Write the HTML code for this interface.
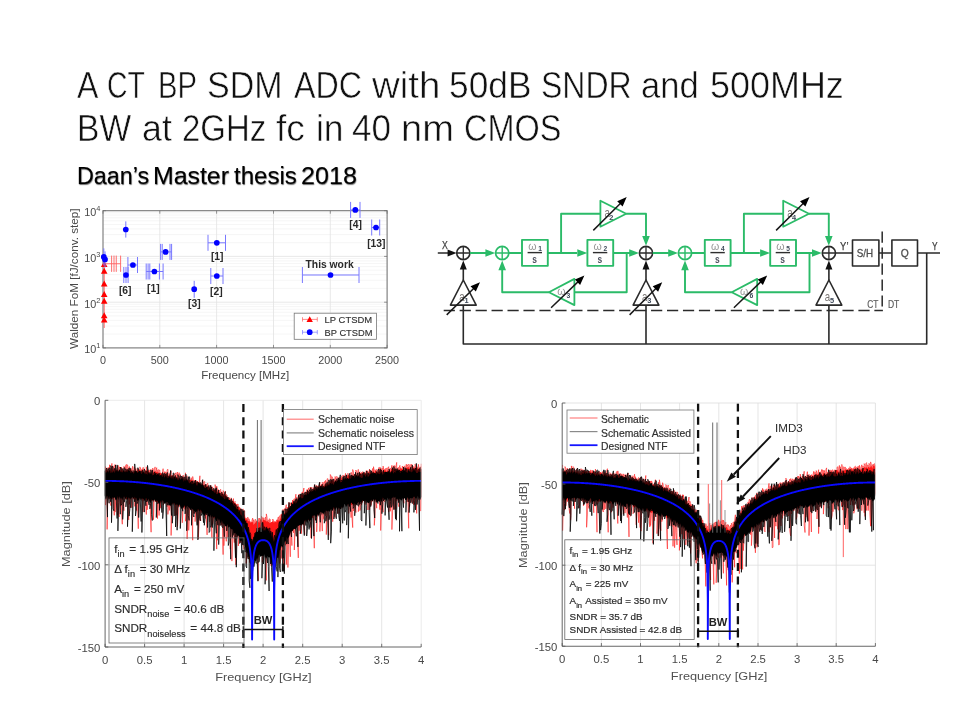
<!DOCTYPE html>
<html lang="en">
<head>
<meta charset="utf-8">
<title>A CT BP SDM ADC with 50dB SNDR and 500MHz BW at 2GHz fc in 40 nm CMOS</title>
<style>
html,body{margin:0;padding:0;background:#fff;}
body{width:960px;height:720px;position:relative;overflow:hidden;font-family:'Liberation Sans', sans-serif;}
.title{position:absolute;left:0;top:64.1px;width:960px;height:86px;margin:0;font-weight:normal;font-size:36.5px;line-height:43px;color:#111;white-space:nowrap;-webkit-text-stroke:0.55px #fff;}
.title span,.sub span{position:absolute;top:0;transform-origin:0 0;white-space:nowrap;}
.title span.l2{top:43px;}
.sub{position:absolute;left:0;top:161.6px;width:960px;height:28px;margin:0;font-size:24.2px;line-height:28px;color:#000;white-space:nowrap;font-weight:normal;text-shadow:0.5px 0.9px 1.1px rgba(0,0,0,0.6);-webkit-text-stroke:0.08px #000;}
svg{position:absolute;left:0;top:0;}
#gfx{filter:blur(0.55px);}
</style>
</head>
<body>
<h1 class="title"><span style="left:76.8px;transform:scaleX(0.8792)">A</span> <span style="left:107.14px;transform:scaleX(0.7783)">CT</span> <span style="left:158.3px;transform:scaleX(0.8)">BP</span> <span style="left:207.04px;transform:scaleX(0.9325)">SDM</span> <span style="left:293.5px;transform:scaleX(0.8842)">ADC</span> <span style="left:372.1px;transform:scaleX(1.054)">with</span> <span style="left:449.27px;transform:scaleX(0.9671)">50dB</span> <span style="left:540.55px;transform:scaleX(0.8768)">SNDR</span> <span style="left:641.25px;transform:scaleX(0.9466)">and</span> <span style="left:710.33px;transform:scaleX(0.9848)">500MHz</span> <span class="l2" style="left:76.74px;transform:scaleX(0.92)">BW</span> <span class="l2" style="left:141.62px;transform:scaleX(0.9793)">at</span> <span class="l2" style="left:182.0px;transform:scaleX(0.9022)">2GHz</span> <span class="l2" style="left:276.4px;transform:scaleX(1.0143)">fc</span> <span class="l2" style="left:315.56px;transform:scaleX(0.9708)">in</span> <span class="l2" style="left:351.54px;transform:scaleX(0.9605)">40</span> <span class="l2" style="left:400.61px;transform:scaleX(1.0426)">nm</span> <span class="l2" style="left:464.42px;transform:scaleX(0.8896)">CMOS</span></h1>
<p class="sub"><span style="left:76.84px;transform:scaleX(0.963)">Daan’s</span> <span style="left:153.37px;transform:scaleX(1.0274)">Master</span> <span style="left:234.0px;transform:scaleX(0.9937)">thesis</span> <span style="left:300.86px;transform:scaleX(1.0385)">2018</span></p>
<svg id="gfx" width="960" height="720" viewBox="0 0 960 720">
<g id="fom">
<rect x="103.0" y="210.7" width="284.1" height="137.2" fill="#fff"/>
<path d="M103.0 334.1H387.1M103.0 326.1H387.1M103.0 320.4H387.1M103.0 315.9H387.1M103.0 312.3H387.1M103.0 309.3H387.1M103.0 306.6H387.1M103.0 304.3H387.1M103.0 288.4H387.1M103.0 280.3H387.1M103.0 274.6H387.1M103.0 270.2H387.1M103.0 266.6H387.1M103.0 263.5H387.1M103.0 260.9H387.1M103.0 258.5H387.1M103.0 242.7H387.1M103.0 234.6H387.1M103.0 228.9H387.1M103.0 224.5H387.1M103.0 220.8H387.1M103.0 217.8H387.1M103.0 215.1H387.1M103.0 212.8H387.1" stroke="#ececec" stroke-width="0.5" fill="none"/>
<path d="M159.8 210.7V347.9M216.6 210.7V347.9M273.5 210.7V347.9M330.3 210.7V347.9M103.0 302.2H387.1M103.0 256.4H387.1" stroke="#e2e2e2" stroke-width="0.8" fill="none"/>
<rect x="103.0" y="210.7" width="284.1" height="137.2" fill="none" stroke="#777" stroke-width="1.1"/>
<path d="M103 347.9v-3M103 210.7v3M159.8 347.9v-3M159.8 210.7v3M216.6 347.9v-3M216.6 210.7v3M273.5 347.9v-3M273.5 210.7v3M330.3 347.9v-3M330.3 210.7v3M387.1 347.9v-3M387.1 210.7v3M103.0 347.9h3M387.1 347.9h-3M103.0 302.2h3M387.1 302.2h-3M103.0 256.4h3M387.1 256.4h-3M103.0 210.7h3M387.1 210.7h-3" stroke="#6a6a6a" stroke-width="0.7" fill="none"/>
<g font-family="'Liberation Sans', sans-serif" font-size="10.8" fill="#484848" text-anchor="middle">
<text x="103" y="364.1">0</text>
<text x="159.8" y="364.1">500</text>
<text x="216.6" y="364.1">1000</text>
<text x="273.5" y="364.1">1500</text>
<text x="330.3" y="364.1">2000</text>
<text x="387.1" y="364.1">2500</text>
</g>
<g font-family="'Liberation Sans', sans-serif" font-size="10.8" fill="#484848" text-anchor="end">
<text x="100.3" y="353.2">10<tspan font-size="7.4" dy="-5">1</tspan></text>
<text x="100.3" y="307.5">10<tspan font-size="7.4" dy="-5">2</tspan></text>
<text x="100.3" y="261.7">10<tspan font-size="7.4" dy="-5">3</tspan></text>
<text x="100.3" y="216">10<tspan font-size="7.4" dy="-5">4</tspan></text>
</g>
<text x="245.2" y="378.6" font-family="'Liberation Sans', sans-serif" font-size="11.2" fill="#484848" text-anchor="middle" textLength="88" lengthAdjust="spacingAndGlyphs">Frequency [MHz]</text>
<text transform="translate(77.6 278.7) rotate(-90)" font-family="'Liberation Sans', sans-serif" font-size="11.2" fill="#484848" text-anchor="middle" textLength="140.5" lengthAdjust="spacingAndGlyphs">Walden FoM [fJ/conv. step]</text>
<path d="M104.2 259V328M103 263.75H120.6M111.6 255.6v16.3M114 255.6v16.3M116.25 255.6v16.3M120.6 255.6v16.3" stroke="#ff6060" stroke-width="0.9" fill="none"/>
<path d="M104.2 261l3.3 6h-6.6z" fill="#ff0000"/>
<path d="M104.2 267.7l3.3 6h-6.6z" fill="#ff0000"/>
<path d="M104.2 280.6l3.3 6h-6.6z" fill="#ff0000"/>
<path d="M104.2 291l3.3 6h-6.6z" fill="#ff0000"/>
<path d="M104.2 297.7l3.3 6h-6.6z" fill="#ff0000"/>
<path d="M104.2 312.2l3.3 6h-6.6z" fill="#ff0000"/>
<path d="M104.2 316.6l3.3 6h-6.6z" fill="#ff0000"/>
<path d="M125.8 221.4V237.6M103.8 248.4V265.4M105 251.4V267.4M127.9 265H137.5M127.9 257v16M137.5 257v16M123.8 275H128.1M123.8 267v16M128.1 267v16M126 267V283M146.2 271.5H163.1M146.2 263.5v16M148.1 263.5v16M149.8 263.5v16M159.4 263.5v16M163.1 263.5v16M160.6 251.9H171.6M160.6 243.9v16M162.2 243.9v16M170 243.9v16M171.6 243.9v16M194.2 280.8V297.8M208 242.8H225.5M208 234.8v16M225.5 234.8v16M210.8 276H223M210.8 268v16M223 268v16M302.4 275H359M302.4 267v16M359 267v16M350.6 209.9H360M350.6 201.9v16M360 201.9v16M371.7 227.5H379.7M371.7 219.5v16M379.7 219.5v16" stroke="#7878ff" stroke-width="1" fill="none"/>
<circle cx="125.8" cy="229.5" r="2.85" fill="#0000ff"/>
<circle cx="103.8" cy="256.9" r="2.85" fill="#0000ff"/>
<circle cx="105" cy="259.4" r="2.85" fill="#0000ff"/>
<circle cx="132.9" cy="265" r="2.85" fill="#0000ff"/>
<circle cx="126" cy="275" r="2.85" fill="#0000ff"/>
<circle cx="154.4" cy="271.5" r="2.85" fill="#0000ff"/>
<circle cx="165.6" cy="251.9" r="2.85" fill="#0000ff"/>
<circle cx="194.2" cy="289.2" r="2.85" fill="#0000ff"/>
<circle cx="216.8" cy="242.8" r="2.85" fill="#0000ff"/>
<circle cx="216.8" cy="276" r="2.85" fill="#0000ff"/>
<circle cx="330.5" cy="275" r="2.85" fill="#0000ff"/>
<circle cx="355.3" cy="209.9" r="2.85" fill="#0000ff"/>
<circle cx="376" cy="227.5" r="2.85" fill="#0000ff"/>
<g font-family="'Liberation Sans', sans-serif" font-size="10.3" font-weight="bold" fill="#2a2a2a" text-anchor="middle">
<text x="125.2" y="293.6">[6]</text>
<text x="153.3" y="291.8">[1]</text>
<text x="194.4" y="307.2">[3]</text>
<text x="216.4" y="294.7">[2]</text>
<text x="217.2" y="259.7">[1]</text>
<text x="329.6" y="267.6">This work</text>
<text x="355.6" y="228.4">[4]</text>
<text x="376.3" y="246.9">[13]</text>
</g>
<rect x="294.2" y="313.2" width="82.2" height="26.1" fill="#fff" stroke="#777" stroke-width="0.8"/>
<path d="M302.5 319.4H317.3M302.5 317.2v4.4M317.3 317.2v4.4" stroke="#ff5a5a" stroke-width="0.7" fill="none"/>
<path d="M309.7 316.2l3.2 5.8h-6.4z" fill="#f00"/>
<path d="M302.5 332.2H317.3M302.5 330v4.4M317.3 330v4.4" stroke="#7878ff" stroke-width="0.7" fill="none"/>
<circle cx="309.7" cy="332.2" r="2.85" fill="#00f"/>
<g font-family="'Liberation Sans', sans-serif" font-size="9.5" fill="#333" stroke="#333" stroke-width="0.15">
<text x="324.6" y="322.9" textLength="47.5" lengthAdjust="spacingAndGlyphs">LP CTSDM</text>
<text x="324.6" y="335.7" textLength="47.8" lengthAdjust="spacingAndGlyphs">BP CTSDM</text>
</g>
</g>
<g id="diagram" fill="none" stroke-linejoin="round">
<path d="M437.8 253.0H450M463.3 305.1V344H926.7V253.0M646 305.1V344M828.9 305.1V344M835.9 253.0H852.2M878.9 253.0H891.6M917.8 253.0H940M463.3 280V268M646 280V268M828.9 280V268" stroke="#2a2a2a" stroke-width="1.6"/>
<path d="M456.6 253.0l-9 -3.5v7zM463.3 260.6l-3.5 8.8h7zM646 260.6l-3.5 8.8h7zM828.9 260.6l-3.5 8.8h7z" fill="#111" stroke="none"/>
<circle cx="463.3" cy="253.0" r="6.6" stroke="#2a2a2a" stroke-width="1.6" fill="#fff"/>
<path d="M456.7 253.0h13.2M463.3 246.4v13.2" stroke="#2a2a2a" stroke-width="1.3"/>
<circle cx="646" cy="253.0" r="6.6" stroke="#2a2a2a" stroke-width="1.6" fill="#fff"/>
<path d="M639.4 253.0h13.2M646 246.4v13.2" stroke="#2a2a2a" stroke-width="1.3"/>
<circle cx="828.9" cy="253.0" r="6.6" stroke="#2a2a2a" stroke-width="1.6" fill="#fff"/>
<path d="M822.3 253.0h13.2M828.9 246.4v13.2" stroke="#2a2a2a" stroke-width="1.3"/>
<path d="M463.3 280L476.2 305.1H450.4Z" stroke="#2a2a2a" stroke-width="1.6" fill="#fff"/>
<path d="M646 280L658.9 305.1H633.1Z" stroke="#2a2a2a" stroke-width="1.6" fill="#fff"/>
<path d="M828.9 280L841.8 305.1H816Z" stroke="#2a2a2a" stroke-width="1.6" fill="#fff"/>
<rect x="852.5" y="240" width="26.4" height="26" stroke="#2a2a2a" stroke-width="1.6" fill="#fff"/>
<rect x="891.9" y="240" width="25.6" height="26" stroke="#2a2a2a" stroke-width="1.6" fill="#fff"/>
<path d="M443.7 310.4H882.9M882.2 231.6V310.4" stroke="#2a2a2a" stroke-width="1.5" stroke-dasharray="11.2 4.75"/>
<path d="M469.9 253.0H486M508.8 253.0H522M548 253.0H577M561.1 253.0V213.8H600.4M626.2 213.8H646V237M613.3 253.0H630M626.7 253.0V292.2H574.4M548.9 292.2H502.2V269" stroke="#2bbb68" stroke-width="1.9"/>
<path d="M495.2 253.0l-9.8 -3.8v7.6zM587.3 253.0l-10 -3.8v7.6zM639 253.0l-9.8 -3.8v7.6zM646 245.8l-3.8 -9.8h7.6zM502.2 260.4l-3.8 9.8h7.6z" fill="#2bbb68" stroke="none"/>
<circle cx="502.2" cy="253.0" r="6.6" stroke="#2bbb68" stroke-width="1.7" fill="#fff"/>
<path d="M495.6 253.0h13.2M502.2 246.4v13.2" stroke="#2bbb68" stroke-width="1.4"/>
<rect x="522" y="239.85" width="25.8" height="26" stroke="#2bbb68" stroke-width="1.9" fill="#fff"/>
<rect x="587.4" y="239.85" width="25.8" height="26" stroke="#2bbb68" stroke-width="1.9" fill="#fff"/>
<path d="M600.4 200.7V226.7L626.2 213.8Z" stroke="#2bbb68" stroke-width="1.8" fill="#fff"/>
<path d="M574.4 278.9V305.1L548.9 292.2Z" stroke="#2bbb68" stroke-width="1.8" fill="#fff"/>
<path d="M652.7 253.0H668.8M691.6 253.0H704.8M730.8 253.0H759.8M743.9 253.0V213.8H783.2M809 213.8H828.8V237M796.1 253.0H812.8M809.5 253.0V292.2H757.2M731.7 292.2H685V269" stroke="#2bbb68" stroke-width="1.9"/>
<path d="M678 253.0l-9.8 -3.8v7.6zM770.1 253.0l-10 -3.8v7.6zM821.8 253.0l-9.8 -3.8v7.6zM828.8 245.8l-3.8 -9.8h7.6zM685 260.4l-3.8 9.8h7.6z" fill="#2bbb68" stroke="none"/>
<circle cx="685" cy="253.0" r="6.6" stroke="#2bbb68" stroke-width="1.7" fill="#fff"/>
<path d="M678.4 253.0h13.2M685 246.4v13.2" stroke="#2bbb68" stroke-width="1.4"/>
<rect x="704.8" y="239.85" width="25.8" height="26" stroke="#2bbb68" stroke-width="1.9" fill="#fff"/>
<rect x="770.2" y="239.85" width="25.8" height="26" stroke="#2bbb68" stroke-width="1.9" fill="#fff"/>
<path d="M783.2 200.7V226.7L809 213.8Z" stroke="#2bbb68" stroke-width="1.8" fill="#fff"/>
<path d="M757.2 278.9V305.1L731.7 292.2Z" stroke="#2bbb68" stroke-width="1.8" fill="#fff"/>
<g font-family="'Liberation Sans', sans-serif" stroke="none">
<text x="532.4" y="249.7" font-size="10.6" fill="#979797" text-anchor="middle">ω</text>
<text x="540.1" y="251.2" font-size="6.6" font-weight="bold" fill="#3d4858" text-anchor="middle">1</text>
<path d="M527.6 252.6h14.4" stroke="#2e2e2e" stroke-width="1.4"/>
<text x="534.6" y="263" font-size="10.5" font-weight="bold" fill="#4d515e" text-anchor="middle" textLength="4.7" lengthAdjust="spacingAndGlyphs">s</text>
<text x="597.7" y="249.7" font-size="10.6" fill="#979797" text-anchor="middle">ω</text>
<text x="605.4" y="251.2" font-size="6.6" font-weight="bold" fill="#3d4858" text-anchor="middle">2</text>
<path d="M592.9 252.6h14.4" stroke="#2e2e2e" stroke-width="1.4"/>
<text x="599.9" y="263" font-size="10.5" font-weight="bold" fill="#4d515e" text-anchor="middle" textLength="4.7" lengthAdjust="spacingAndGlyphs">s</text>
<text x="715.2" y="249.7" font-size="10.6" fill="#979797" text-anchor="middle">ω</text>
<text x="722.9" y="251.2" font-size="6.6" font-weight="bold" fill="#3d4858" text-anchor="middle">4</text>
<path d="M710.4 252.6h14.4" stroke="#2e2e2e" stroke-width="1.4"/>
<text x="717.4" y="263" font-size="10.5" font-weight="bold" fill="#4d515e" text-anchor="middle" textLength="4.7" lengthAdjust="spacingAndGlyphs">s</text>
<text x="780.5" y="249.7" font-size="10.6" fill="#979797" text-anchor="middle">ω</text>
<text x="788.2" y="251.2" font-size="6.6" font-weight="bold" fill="#3d4858" text-anchor="middle">5</text>
<path d="M775.7 252.6h14.4" stroke="#2e2e2e" stroke-width="1.4"/>
<text x="782.7" y="263" font-size="10.5" font-weight="bold" fill="#4d515e" text-anchor="middle" textLength="4.7" lengthAdjust="spacingAndGlyphs">s</text>
<text x="561.3" y="294.6" font-size="10.6" fill="#979797" text-anchor="middle">ω</text>
<text x="568.5" y="297.6" font-size="6.8" font-weight="bold" fill="#3d4858" text-anchor="middle">3</text>
<text x="744.1" y="294.6" font-size="10.6" fill="#979797" text-anchor="middle">ω</text>
<text x="751.3" y="297.6" font-size="6.8" font-weight="bold" fill="#3d4858" text-anchor="middle">6</text>
<text x="607.1" y="217" font-size="12.4" fill="#7a7674" text-anchor="middle" textLength="5.4" lengthAdjust="spacingAndGlyphs">a</text>
<text x="611.2" y="219.6" font-size="7.4" font-weight="bold" fill="#3d4858" text-anchor="middle">2</text>
<text x="789.9" y="217" font-size="12.4" fill="#7a7674" text-anchor="middle" textLength="5.4" lengthAdjust="spacingAndGlyphs">a</text>
<text x="794" y="219.6" font-size="7.4" font-weight="bold" fill="#3d4858" text-anchor="middle">4</text>
<text x="461.9" y="300.8" font-size="12.4" fill="#7a7674" text-anchor="middle" textLength="5.4" lengthAdjust="spacingAndGlyphs">a</text>
<text x="466.5" y="303" font-size="7.4" font-weight="bold" fill="#3d4858" text-anchor="middle">1</text>
<text x="644.6" y="300.8" font-size="12.4" fill="#7a7674" text-anchor="middle" textLength="5.4" lengthAdjust="spacingAndGlyphs">a</text>
<text x="649.2" y="303" font-size="7.4" font-weight="bold" fill="#3d4858" text-anchor="middle">3</text>
<text x="827.5" y="300.8" font-size="12.4" fill="#7a7674" text-anchor="middle" textLength="5.4" lengthAdjust="spacingAndGlyphs">a</text>
<text x="832.1" y="303" font-size="7.4" font-weight="bold" fill="#3d4858" text-anchor="middle">5</text>
<text x="445" y="248.6" font-size="10.2" fill="#3e3e3e" stroke="#3e3e3e" stroke-width="0.25" text-anchor="middle" textLength="5.8" lengthAdjust="spacingAndGlyphs">X</text>
<text x="844.3" y="250" font-size="10.4" fill="#3e3e3e" stroke="#3e3e3e" stroke-width="0.25" text-anchor="middle" textLength="8.4" lengthAdjust="spacingAndGlyphs">Y’</text>
<text x="934.9" y="250" font-size="10.4" fill="#3e3e3e" stroke="#3e3e3e" stroke-width="0.25" text-anchor="middle" textLength="5.6" lengthAdjust="spacingAndGlyphs">Y</text>
<text x="864.9" y="256.9" font-size="11.8" fill="#4c4c4c" stroke="#4c4c4c" stroke-width="0.3" text-anchor="middle" textLength="16.4" lengthAdjust="spacingAndGlyphs">S/H</text>
<text x="904.7" y="256.9" font-size="11.8" fill="#4c4c4c" stroke="#4c4c4c" stroke-width="0.3" text-anchor="middle" textLength="8" lengthAdjust="spacingAndGlyphs">Q</text>
<text x="872.9" y="307.7" font-size="11.8" fill="#5c5c5c" stroke="#5c5c5c" stroke-width="0.2" text-anchor="middle" textLength="11.2" lengthAdjust="spacingAndGlyphs">CT</text>
<text x="893.6" y="307.7" font-size="11.8" fill="#5c5c5c" stroke="#5c5c5c" stroke-width="0.2" text-anchor="middle" textLength="11.4" lengthAdjust="spacingAndGlyphs">DT</text>
</g>
<path d="M446.7 314.9L473.9 288.2M629.6 314.9L656.1 288.3M551.1 307.8L578.2 281.6M733.9 307.8L761 281.6M593.3 230.4L620.6 203.2M776.1 230.4L803.4 203.2" stroke="#1a1a1a" stroke-width="1.5"/>
<path d="M480 282.2L475.8 291.6L470.5 286.2ZM662.2 282.2L658.1 291.7L652.7 286.3ZM584.4 275.6L580.1 285L574.9 279.5ZM767.2 275.6L762.9 285L757.7 279.5ZM626.7 197.1L622.6 206.6L617.2 201.2ZM809.5 197.1L805.4 206.6L800 201.2Z" fill="#000" stroke="none"/>
</g>
<g id="spec1">
<rect x="105.1" y="400.3" width="316.1" height="246.7" fill="#fff"/>
<path d="M144.6 400.3V647.0M184.1 400.3V647.0M223.6 400.3V647.0M263.1 400.3V647.0M302.7 400.3V647.0M342.2 400.3V647.0M381.7 400.3V647.0M105.1 482.5H421.2M105.1 564.8H421.2" stroke="#dedede" stroke-width="0.8" fill="none"/>
<path d="M105.5 469.9 106.3 470.4 107.1 469.2 107.9 471.2 108.7 471.2 109.5 469.2 110.3 468.7 111.1 471.6 111.9 471.6 112.7 468.3 113.5 469.2 114.3 471.4 115.1 468.8 115.9 470 116.7 470.2 117.5 470.1 118.3 470.8 119.1 471.9 119.9 468.6 120.7 471.4 121.5 468.6 122.3 470.8 123.1 470.5 123.9 470.9 124.7 471.2 125.5 471.4 126.3 470.3 127.1 469 127.9 470.6 128.7 468.8 129.5 471.7 130.3 469 131.1 469.8 131.9 472.3 132.7 472.5 133.5 471.8 134.3 472.4 135.1 469.8 135.9 471.7 136.7 472 137.5 469.9 138.3 472.4 139.1 469.4 139.9 469.9 140.7 473 141.5 470.1 142.3 469.8 143.1 472.9 143.9 473.2 144.7 471.9 145.5 470.1 146.3 470.7 147.1 471.4 147.9 471.3 148.7 470.8 149.5 474 150.3 473.8 151.1 472.6 151.9 473.3 152.7 474.6 153.5 471.7 154.3 471.9 155.1 471.6 155.9 471.5 156.7 472.2 157.5 472.3 158.3 472.2 159.1 475.3 159.9 472.5 160.7 472.8 161.5 475 162.3 472.4 163.1 476 163.9 474.4 164.7 474.7 165.5 476.5 166.3 473.2 167.1 473.9 167.9 476 168.7 475.8 169.5 477 170.3 475.2 171.1 476.8 171.9 474.9 172.7 476.2 173.5 476.6 174.3 478.1 175.1 476.7 175.9 477.1 176.7 476.6 177.5 478.2 178.3 477.7 179.1 479.1 179.9 478.8 180.7 480 181.5 478.3 182.3 477 183.1 478.2 183.9 480.6 184.7 478 185.5 479.9 186.3 478.2 187.1 481.6 187.9 480 188.7 479.6 189.5 479.4 190.3 480.6 191.1 479.3 191.9 479.9 192.7 481.3 193.5 483.1 194.3 483.3 195.1 480.9 195.9 484 196.7 481.8 197.5 481.6 198.3 483.1 199.1 483.8 199.9 484.5 200.7 483.7 201.5 484.4 202.3 484.3 203.1 484.6 203.9 484.9 204.7 487.4 205.5 484 206.3 485.1 207.1 487.6 207.9 485.5 208.7 486.4 209.5 488.5 210.3 486.3 211.1 487.8 211.9 490.4 212.7 490.6 213.5 489.7 214.3 490.1 215.1 490.5 215.9 488.9 216.7 491.1 217.5 493.2 218.3 492.2 219.1 492.4 219.9 491.7 220.7 495.3 221.5 493.5 222.3 493 223.1 493.5 223.9 495.9 224.7 494.2 225.5 494.9 226.3 496 227.1 498.1 227.9 497.2 228.7 500.2 229.5 500.4 230.3 501.2 231.1 500.5 231.9 502.3 232.7 500.5 233.5 501.2 234.3 502.5 235.1 502.9 235.9 503.6 236.7 506 237.5 508.1 238.3 506.7 239.1 507 239.9 508.4 240.7 511.2 241.5 512 242.3 514.4 243.1 512 243.9 515.3 244.7 514.1 245.5 519.1 246.3 520 247.1 517.9 247.9 521.5 248.7 521.1 249.5 521.1 250.3 522.9 251.1 521.6 251.9 522.5 252.7 521.5 253.5 525 254.3 523.9 255.1 523.1 255.9 522.1 256.7 520.5 257.5 521.6 258.3 521.6 259.1 522.9 259.9 520.5 260.7 519.3 261.5 519.7 262.3 522.3 263.1 519.9 263.9 519.9 264.7 520.3 265.5 520.5 266.3 521.7 267.1 520.8 267.9 521.7 268.7 521.9 269.5 523.2 270.3 522.8 271.1 522.2 271.9 521.9 272.7 521.2 273.5 522.6 274.3 522.7 275.1 521.6 275.9 521.5 276.7 522.4 277.5 519.5 278.3 519.9 279.1 521.2 279.9 519.2 280.7 517.9 281.5 514.5 282.3 513.2 283.1 513.5 283.9 514.1 284.7 512.9 285.5 512.8 286.3 511.8 287.1 509.6 287.9 508.2 288.7 507.6 289.5 504.8 290.3 507.2 291.1 505.8 291.9 503.6 292.7 501.6 293.5 502.5 294.3 502.3 295.1 502.6 295.9 500.9 296.7 499 297.5 500 298.3 497.2 299.1 499 299.9 496.4 300.7 497 301.5 494.2 302.3 494.5 303.1 495.2 303.9 496.3 304.7 494.4 305.5 494.7 306.3 492.8 307.1 490.8 307.9 491.6 308.7 491.4 309.5 492.1 310.3 490.8 311.1 489 311.9 491.5 312.7 490.2 313.5 489.5 314.3 487.1 315.1 489.7 315.9 486.7 316.7 488.2 317.5 488.7 318.3 485.3 319.1 487.8 319.9 485.2 320.7 486.5 321.5 484.5 322.3 486.2 323.1 486.2 323.9 486.1 324.7 485.4 325.5 483.4 326.3 484.2 327.1 484.2 327.9 483.8 328.7 484.2 329.5 482.6 330.3 481.5 331.1 481.3 331.9 480.1 332.7 480.2 333.5 482.4 334.3 482.7 335.1 479.8 335.9 480.9 336.7 480.8 337.5 481.1 338.3 479.6 339.1 479.3 339.9 479.7 340.7 479.4 341.5 477.6 342.3 480.1 343.1 480.1 343.9 477.4 344.7 479.3 345.5 477.9 346.3 477.4 347.1 477.2 347.9 475.3 348.7 475.3 349.5 475.6 350.3 476.3 351.1 476.6 351.9 475.4 352.7 475.4 353.5 477.3 354.3 475.8 355.1 477.3 355.9 474.8 356.7 475.2 357.5 475 358.3 476.7 359.1 474.5 359.9 473.2 360.7 473 361.5 476 362.3 473.1 363.1 472.5 363.9 474.7 364.7 472.2 365.5 473.1 366.3 475.3 367.1 473.7 367.9 473.2 368.7 471.2 369.5 473.9 370.3 472.8 371.1 471.7 371.9 473.4 372.7 472.2 373.5 470.4 374.3 473.6 375.1 470.9 375.9 470.4 376.7 473.6 377.5 471.8 378.3 472.4 379.1 470.7 379.9 469.4 380.7 470.4 381.5 469.3 382.3 472.4 383.1 471.4 383.9 471 384.7 469.4 385.5 470.3 386.3 472.1 387.1 471.2 387.9 469.4 388.7 472.3 389.5 469.4 390.3 472.1 391.1 469.1 391.9 469.1 392.7 469.5 393.5 468.8 394.3 468.7 395.1 470 395.9 469.4 396.7 470 397.5 469.1 398.3 469.9 399.1 469 399.9 470.4 400.7 467.5 401.5 469.3 402.3 469.1 403.1 468.7 403.9 470.5 404.7 470.3 405.5 469 406.3 467.8 407.1 467.9 407.9 466.9 408.7 467.2 409.5 469.3 410.3 467.7 411.1 469.1 411.9 469.8 412.7 467.3 413.5 468.2 414.3 467.7 415.1 470.3 415.9 468.1 416.7 467.9 417.5 468.9 418.3 467.9 419.1 469.2 419.9 470.2 420.7 468.3 421.2 468.6 L421.2 492.5 420.7 496.9 419.9 496.4 419.1 494.5 418.3 494.3 417.5 494 416.7 497.3 415.9 492.9 415.1 497.6 414.3 496.2 413.5 493.1 412.7 497 411.9 493.8 411.1 494.1 410.3 496 409.5 496.7 408.7 494.5 407.9 494.9 407.1 496.3 406.3 497.6 405.5 493.9 404.7 493.5 403.9 494.5 403.1 493.6 402.3 495.5 401.5 497.7 400.7 496.5 399.9 498.5 399.1 497.7 398.3 494.6 397.5 494.9 396.7 498.6 395.9 497 395.1 497.1 394.3 496.9 393.5 494.3 392.7 498 391.9 496.1 391.1 495.8 390.3 496.7 389.5 497.2 388.7 499.1 387.9 497.3 387.1 497.4 386.3 495.8 385.5 496.7 384.7 499.9 383.9 495.4 383.1 499.7 382.3 498.7 381.5 500 380.7 500.4 379.9 499.7 379.1 498.9 378.3 499.6 377.5 500 376.7 500.2 375.9 499.2 375.1 500.5 374.3 498.5 373.5 496.5 372.7 497.8 371.9 500.4 371.1 498.7 370.3 500.4 369.5 499.8 368.7 498.3 367.9 502.1 367.1 498.6 366.3 500 365.5 501.1 364.7 501.8 363.9 500.9 363.1 500.9 362.3 503.2 361.5 499.2 360.7 502.4 359.9 502 359.1 502.8 358.3 502 357.5 503.6 356.7 502.9 355.9 500.9 355.1 501.3 354.3 504.7 353.5 500.8 352.7 505.1 351.9 504.6 351.1 505.2 350.3 502.6 349.5 505.6 348.7 502.3 347.9 506.2 347.1 503.4 346.3 503.1 345.5 505.6 344.7 503 343.9 503.2 343.1 502.7 342.3 505.3 341.5 507.9 340.7 506.7 339.9 508.3 339.1 506 338.3 508.4 337.5 504.5 336.7 508.8 335.9 505.6 335.1 507.3 334.3 509.9 333.5 508.4 332.7 506.7 331.9 508.7 331.1 506.7 330.3 508.1 329.5 507.2 328.7 507.9 327.9 510.3 327.1 510.9 326.3 508.9 325.5 508.7 324.7 510.5 323.9 508.9 323.1 509.8 322.3 511.1 321.5 509.9 320.7 511.3 319.9 512.3 319.1 515.4 318.3 513 317.5 515.3 316.7 516.2 315.9 514.4 315.1 512.6 314.3 515.5 313.5 514 312.7 517.9 311.9 517 311.1 516.5 310.3 518 309.5 516 308.7 520.2 307.9 519.7 307.1 517 306.3 521.7 305.5 520 304.7 520 303.9 521.9 303.1 519.2 302.3 524.5 301.5 523.9 300.7 522.1 299.9 523.2 299.1 525 298.3 525.9 297.5 525.2 296.7 527.8 295.9 525.3 295.1 525.4 294.3 526.9 293.5 528.5 292.7 530.9 291.9 530.8 291.1 531.8 290.3 529.8 289.5 531.2 288.7 531.6 287.9 533.1 287.1 535.5 286.3 536.6 285.5 536.5 284.7 537.5 283.9 541.3 283.1 543 282.3 541.7 281.5 542.9 280.7 546.4 279.9 544.3 279.1 546.3 278.3 546.9 277.5 550.4 276.7 548.3 275.9 548.8 275.1 550.3 274.3 548.8 273.5 547.7 272.7 550.7 271.9 549.5 271.1 551.2 270.3 547 269.5 550.1 268.7 548.8 267.9 549.7 267.1 546.1 266.3 547.3 265.5 548.7 264.7 549.1 263.9 548.4 263.1 549.6 262.3 546.1 261.5 545.5 260.7 547.1 259.9 545.8 259.1 546 258.3 545.5 257.5 546.3 256.7 548.8 255.9 550.1 255.1 548.3 254.3 549.9 253.5 550.7 252.7 547.9 251.9 548.5 251.1 551.1 250.3 550.6 249.5 550.5 248.7 547 247.9 547.6 247.1 545.1 246.3 543 245.5 544.3 244.7 542.4 243.9 541.4 243.1 542.5 242.3 537.2 241.5 539.7 240.7 536.6 239.9 534.5 239.1 534 238.3 532.8 237.5 532.6 236.7 533.9 235.9 533.4 235.1 532.8 234.3 530.5 233.5 527.8 232.7 528.2 231.9 529.9 231.1 527.8 230.3 524.8 229.5 524.7 228.7 524.2 227.9 525.4 227.1 523.9 226.3 522.2 225.5 521.8 224.7 521.5 223.9 523.9 223.1 520.4 222.3 520.7 221.5 522.1 220.7 518.3 219.9 519.6 219.1 518.2 218.3 516.5 217.5 516.3 216.7 518.2 215.9 518.5 215.1 517.3 214.3 519.1 213.5 515 212.7 516.9 211.9 517.7 211.1 513.7 210.3 514.7 209.5 513.3 208.7 513.5 207.9 511.9 207.1 512.7 206.3 512 205.5 514.7 204.7 513.3 203.9 512 203.1 510.1 202.3 509 201.5 512.3 200.7 510.5 199.9 511.7 199.1 508.5 198.3 511.3 197.5 510.4 196.7 511.4 195.9 508.7 195.1 508.4 194.3 506.6 193.5 507.4 192.7 509 191.9 505.8 191.1 505.2 190.3 506.2 189.5 508.3 188.7 507.6 187.9 505.9 187.1 504.7 186.3 504.7 185.5 503.6 184.7 507.2 183.9 507.3 183.1 506.4 182.3 506.1 181.5 503.9 180.7 505.1 179.9 504.5 179.1 502.8 178.3 503.6 177.5 505.9 176.7 505.9 175.9 502.4 175.1 501.2 174.3 505 173.5 502.4 172.7 504.6 171.9 503.3 171.1 503.1 170.3 503.2 169.5 500.5 168.7 503.9 167.9 499.9 167.1 500.3 166.3 502.2 165.5 502.4 164.7 502 163.9 499.9 163.1 502.1 162.3 499.8 161.5 501.2 160.7 502.9 159.9 501.7 159.1 501 158.3 498.9 157.5 502.6 156.7 502.2 155.9 501.5 155.1 499.2 154.3 499 153.5 500.6 152.7 500.6 151.9 501 151.1 500.2 150.3 501 149.5 501.6 148.7 500.8 147.9 496.9 147.1 499.5 146.3 500.3 145.5 497.5 144.7 497.6 143.9 498 143.1 499.5 142.3 499 141.5 498.8 140.7 498.8 139.9 496.8 139.1 499.3 138.3 496.4 137.5 497.3 136.7 496.8 135.9 499.9 135.1 498.9 134.3 498.3 133.5 499.4 132.7 497.3 131.9 497.6 131.1 496.9 130.3 498.4 129.5 497.5 128.7 499.2 127.9 494.9 127.1 498.8 126.3 499.5 125.5 498.2 124.7 496.5 123.9 497.8 123.1 495.8 122.3 496.7 121.5 495.3 120.7 495.3 119.9 497.6 119.1 496.7 118.3 497.3 117.5 498.4 116.7 495.9 115.9 495.9 115.1 496.9 114.3 494.5 113.5 494.3 112.7 496.5 111.9 498.9 111.1 494.6 110.3 497.9 109.5 494.9 108.7 494.1 107.9 495.2 107.1 495.1 106.3 497.3 105.5 496.5Z" fill="#ff1a1a" stroke="none"/>
<path d="M105.5 466.5L105.5 505.1L106.3 493.3L106.3 470.2L107.1 467.7L107.1 529.4L107.9 494.5L107.9 468.5L108.7 467.4L108.7 495.1L109.5 498.8L109.5 464.8L110.3 469.5L110.3 503.9L111.1 505.8L111.1 471.7L111.9 463.4L111.9 496.2L112.7 499.2L112.7 467.7L113.5 466.5L113.5 501.8L114.3 515.3L114.3 465.6L115.1 464.4L115.1 512.1L115.9 495.4L115.9 468.5L116.7 469.6L116.7 503.3L117.5 515.2L117.5 469.1L118.3 465.4L118.3 509.7L119.1 516.9L119.1 467.4L119.9 467.1L119.9 494.5L120.7 506.4L120.7 471.5L121.5 467L121.5 512.2L122.3 524.2L122.3 468.6L123.1 470.5L123.1 496.1L123.9 510.7L123.9 466.3L124.7 467.2L124.7 493L125.5 499.3L125.5 465.8L126.3 464.5L126.3 493.3L127.1 497.2L127.1 464.6L127.9 465.9L127.9 506L128.7 519.9L128.7 468.8L129.5 466.6L129.5 504.3L130.3 495.1L130.3 470L131.1 468.8L131.1 495.2L131.9 507.8L131.9 469.6L132.7 466.2L132.7 495.7L133.5 494.5L133.5 471.4L134.3 466.9L134.3 506.2L135.1 505.7L135.1 470.5L135.9 468.5L135.9 502.7L136.7 510.7L136.7 471.4L137.5 468.5L137.5 502.3L138.3 528.7L138.3 471.6L139.1 469.5L139.1 495.1L139.9 499.4L139.9 466.9L140.7 469L140.7 496.7L141.5 496L141.5 470L142.3 468.6L142.3 495.9L143.1 512.1L143.1 467.3L143.9 468.3L143.9 500.7L144.7 495L144.7 472.1L145.5 471.3L145.5 497.4L146.3 514.5L146.3 466.8L147.1 472.7L147.1 509.8L147.9 503.6L147.9 469.8L148.7 470L148.7 496.5L149.5 497.3L149.5 470.3L150.3 469.5L150.3 508.7L151.1 532.2L151.1 469.5L151.9 470.5L151.9 499.7L152.7 497.3L152.7 468L153.5 470.4L153.5 519.7L154.3 498.1L154.3 469.8L155.1 466.9L155.1 498.3L155.9 501.9L155.9 471.5L156.7 467.7L156.7 499.8L157.5 518.6L157.5 470.5L158.3 469.5L158.3 496.6L159.1 515.5L159.1 470.2L159.9 470.2L159.9 496.6L160.7 508.2L160.7 474L161.5 473.3L161.5 501.9L162.3 502.2L162.3 474.7L163.1 468.7L163.1 505.1L163.9 504L163.9 474.7L164.7 471.6L164.7 500.2L165.5 498.5L165.5 472L166.3 472L166.3 500.6L167.1 506.9L167.1 469.9L167.9 469.2L167.9 514.4L168.7 505.1L168.7 473.5L169.5 473.8L169.5 510.4L170.3 503.8L170.3 475.4L171.1 471.2L171.1 535.5L171.9 503.3L171.9 475.2L172.7 476.8L172.7 502.7L173.5 499L173.5 474.2L174.3 474L174.3 500.2L175.1 515.5L175.1 474.1L175.9 472.7L175.9 499.7L176.7 515.2L176.7 473.9L177.5 472.1L177.5 526.6L178.3 514.2L178.3 476.9L179.1 472.6L179.1 503.3L179.9 506.9L179.9 473.8L180.7 476.8L180.7 501.8L181.5 502.7L181.5 476.2L182.3 478L182.3 522.8L183.1 507.6L183.1 475.1L183.9 478.5L183.9 508.6L184.7 509.2L184.7 478.4L185.5 472.8L185.5 521.2L186.3 514.8L186.3 478.6L187.1 475.8L187.1 538.9L187.9 511.7L187.9 480.7L188.7 478.5L188.7 530.3L189.5 513.4L189.5 480.8L190.3 482.5L190.3 504.6L191.1 510.5L191.1 477.6L191.9 480.1L191.9 512L192.7 540.2L192.7 476.5L193.5 481.3L193.5 513.5L194.3 505.1L194.3 480.1L195.1 481.1L195.1 521.6L195.9 509.4L195.9 480.4L196.7 483.3L196.7 508.9L197.5 524.6L197.5 481L198.3 483.7L198.3 538.9L199.1 523.2L199.1 483.6L199.9 475.8L199.9 514L200.7 520.9L200.7 483.7L201.5 485.2L201.5 512.6L202.3 508.9L202.3 480.1L203.1 482L203.1 507.7L203.9 512.3L203.9 481.8L204.7 481.5L204.7 510.8L205.5 518.5L205.5 484L206.3 486.4L206.3 516.9L207.1 534.9L207.1 483.7L207.9 483.3L207.9 514.1L208.7 514.1L208.7 488.3L209.5 487.6L209.5 521.8L210.3 513.2L210.3 485L211.1 485.8L211.1 516L211.9 537.5L211.9 488.9L212.7 486.8L212.7 524.5L213.5 519.4L213.5 489.1L214.3 489.7L214.3 515.4L215.1 513L215.1 484.6L215.9 489.3L215.9 515.1L216.7 549.1L216.7 486L217.5 489.4L217.5 540.3L218.3 520.8L218.3 489.6L219.1 490.3L219.1 522.2L219.9 525.6L219.9 490.3L220.7 489.3L220.7 519.6L221.5 525.1L221.5 491.7L222.3 493.1L222.3 520.2L223.1 554.6L223.1 490.6L223.9 492.5L223.9 545.7L224.7 519.7L224.7 496.7L225.5 491.2L225.5 524.1L226.3 541.3L226.3 494.5L227.1 495L227.1 523.3L227.9 537.3L227.9 497L228.7 498L228.7 522.7L229.5 523.9L229.5 497.7L230.3 500.3L230.3 549.1L231.1 523.8L231.1 497.8L231.9 499.8L231.9 561.1L232.7 538.3L232.7 501.7L233.5 498.6L233.5 527.4L234.3 542.6L234.3 502.4L235.1 501.3L235.1 527.2L235.9 564.9L235.9 505L236.7 504L236.7 538.5L237.5 531.3L237.5 504.2L238.3 504.3L238.3 545.9L239.1 537L239.1 507L239.9 507.5L239.9 537L240.7 542.5L240.7 508.4L241.5 511.1L241.5 537.6L242.3 545.2L242.3 512.3L243.1 508.9L243.1 537.3L243.9 549.4L243.9 510.3L244.7 511L244.7 540.4L245.5 541L245.5 518.2L246.3 518.2L246.3 563.4L247.1 542.9L247.1 518.3L247.9 517.1L247.9 555.6L248.7 558.6L248.7 518.5L249.5 520L249.5 562.3L250.3 561.9L250.3 521.7L251.1 522.4L251.1 566.4L251.9 553L251.9 520.7L252.7 518.1L252.7 550.8L253.5 563.3L253.5 519.7L254.3 521.4L254.3 546.9L255.1 558.4L255.1 519.2L255.9 519.9L255.9 550.3L256.7 546.7L256.7 522.3L257.5 521L257.5 562.1L258.3 580.7L258.3 521L259.1 518L259.1 546.6L259.9 547L259.9 518.4L260.7 520.6L260.7 551.5L261.5 548.6L261.5 516.3L262.3 518L262.3 562.3L263.1 556.5L263.1 517.6L263.9 521.2L263.9 543.6L264.7 545.9L264.7 518.6L265.5 517.1L265.5 555.6L266.3 580.4L266.3 513.9L267.1 517.6L267.1 551L267.9 549.3L267.9 519.7L268.7 520.2L268.7 546.1L269.5 547.2L269.5 518.7L270.3 519.5L270.3 556.5L271.1 565.8L271.1 524.1L271.9 522.1L271.9 550L272.7 565.3L272.7 519L273.5 520.4L273.5 546.8L274.3 564.4L274.3 521.3L275.1 523.7L275.1 559.9L275.9 563.4L275.9 525.3L276.7 519.8L276.7 554.7L277.5 557.9L277.5 520.8L278.3 517.1L278.3 558.2L279.1 553.2L279.1 516.8L279.9 515.6L279.9 563.5L280.7 554.6L280.7 514.9L281.5 513.9L281.5 557.8L282.3 558.9L282.3 514.4L283.1 509.3L283.1 550.6L283.9 570.8L283.9 512.4L284.7 508.6L284.7 536.4L285.5 545.3L285.5 507.8L286.3 504.7L286.3 564.6L287.1 547.7L287.1 507L287.9 508.3L287.9 567.5L288.7 531L288.7 502.4L289.5 503.4L289.5 528.9L290.3 556.8L290.3 502.7L291.1 504.4L291.1 528.7L291.9 545.6L291.9 505.9L292.7 500L292.7 528.2L293.5 532.8L293.5 500.2L294.3 498.7L294.3 550L295.1 529.6L295.1 500.1L295.9 494.2L295.9 523.2L296.7 522.3L296.7 497.1L297.5 499L297.5 535.5L298.3 557.9L298.3 496.5L299.1 494.1L299.1 530.8L299.9 520.9L299.9 494.6L300.7 495.1L300.7 525.2L301.5 533.6L301.5 495L302.3 491.9L302.3 521.2L303.1 524.8L303.1 491.9L303.9 488L303.9 528.4L304.7 534.5L304.7 493.8L305.5 492.1L305.5 521.3L306.3 518.1L306.3 491.6L307.1 489.4L307.1 518L307.9 515.8L307.9 490.1L308.7 487.9L308.7 516.5L309.5 520.8L309.5 491L310.3 487L310.3 518.8L311.1 538.1L311.1 488.4L311.9 487.1L311.9 513.6L312.7 518.1L312.7 489.2L313.5 487.7L313.5 514.1L314.3 548.2L314.3 484.9L315.1 486.9L315.1 511L315.9 516.9L315.9 485.1L316.7 485.6L316.7 531.9L317.5 511L317.5 485.9L318.3 486.8L318.3 512.9L319.1 510.3L319.1 486.5L319.9 482.2L319.9 531.5L320.7 510.8L320.7 485.4L321.5 484.4L321.5 510.8L322.3 531.1L322.3 482.7L323.1 482.3L323.1 515.5L323.9 519.4L323.9 483.3L324.7 481.4L324.7 513.4L325.5 515.8L325.5 480.3L326.3 482.3L326.3 534.6L327.1 514L327.1 478.8L327.9 478.7L327.9 515.1L328.7 535.3L328.7 483.3L329.5 481.2L329.5 506.5L330.3 507.6L330.3 474.5L331.1 476.1L331.1 518.9L331.9 507.9L331.9 476.6L332.7 478.1L332.7 521.7L333.5 505L333.5 479.5L334.3 478.8L334.3 514.2L335.1 517.4L335.1 476.5L335.9 479.8L335.9 505.5L336.7 504.7L336.7 476.3L337.5 477.2L337.5 513.5L338.3 508.2L338.3 479.9L339.1 477.4L339.1 513.5L339.9 507.3L339.9 477.5L340.7 477.6L340.7 508.7L341.5 503.8L341.5 476.2L342.3 476.2L342.3 503.6L343.1 506.8L343.1 475L343.9 479L343.9 503.1L344.7 502.5L344.7 477.7L345.5 473.4L345.5 502.4L346.3 501.6L346.3 475.5L347.1 475.3L347.1 502.8L347.9 501.5L347.9 473.2L348.7 476.4L348.7 513.5L349.5 501.4L349.5 475.8L350.3 475.2L350.3 503.6L351.1 517.6L351.1 472.2L351.9 474.5L351.9 515.9L352.7 527.6L352.7 469.5L353.5 472.2L353.5 510.9L354.3 506.5L354.3 474.3L355.1 474.2L355.1 504.6L355.9 512.5L355.9 470L356.7 472.5L356.7 502.6L357.5 502.2L357.5 474L358.3 469.4L358.3 511.7L359.1 506.8L359.1 472.7L359.9 471.7L359.9 510.6L360.7 507.6L360.7 473.3L361.5 472.5L361.5 505.1L362.3 497.6L362.3 471.9L363.1 471.8L363.1 497L363.9 496.9L363.9 473.7L364.7 473.2L364.7 504.2L365.5 504.3L365.5 474.1L366.3 470.6L366.3 496.2L367.1 496.5L367.1 470.6L367.9 473L367.9 510L368.7 498.6L368.7 473.2L369.5 469.1L369.5 509.8L370.3 502.4L370.3 474.4L371.1 470.7L371.1 505.4L371.9 496.6L371.9 471.7L372.7 468.4L372.7 501.4L373.5 495.7L373.5 466.7L374.3 471.3L374.3 525.4L375.1 513.8L375.1 469.7L375.9 472.4L375.9 500.7L376.7 508.2L376.7 469.4L377.5 472.2L377.5 496.7L378.3 496.5L378.3 469.3L379.1 467.3L379.1 498.7L379.9 509.7L379.9 467.3L380.7 467.9L380.7 530.5L381.5 507.2L381.5 469L382.3 468.2L382.3 506.3L383.1 512.2L383.1 466.1L383.9 471.7L383.9 501L384.7 501.8L384.7 469L385.5 468.5L385.5 494.1L386.3 495.6L386.3 469L387.1 467.8L387.1 495.6L387.9 497.9L387.9 468.5L388.7 466.7L388.7 512L389.5 504.6L389.5 469.2L390.3 468.1L390.3 511.3L391.1 495.7L391.1 469.1L391.9 465.3L391.9 529.6L392.7 508.8L392.7 467.4L393.5 465.8L393.5 496.8L394.3 509.4L394.3 465.6L395.1 466L395.1 493.2L395.9 508.8L395.9 466.5L396.7 462.4L396.7 501.3L397.5 495.4L397.5 469.3L398.3 467.4L398.3 504.7L399.1 507L399.1 468L399.9 465.4L399.9 493.8L400.7 493.6L400.7 467.7L401.5 468.9L401.5 499.7L402.3 497.2L402.3 466L403.1 469.1L403.1 496.5L403.9 503.3L403.9 466.4L404.7 466L404.7 496.5L405.5 495.8L405.5 468.9L406.3 464.3L406.3 493.4L407.1 502L407.1 464.6L407.9 466.2L407.9 499.1L408.7 528.3L408.7 464L409.5 465.5L409.5 506.6L410.3 494L410.3 468.3L411.1 464.1L411.1 499.2L411.9 502.6L411.9 464.5L412.7 467.1L412.7 494.5L413.5 504.6L413.5 466.6L414.3 466.8L414.3 504.6L415.1 491.9L415.1 464.2L415.9 467.9L415.9 492.4L416.7 513.4L416.7 466.4L417.5 468.1L417.5 496.3L418.3 493.8L418.3 464.3L419.1 468.1L419.1 500.3L419.9 490.9L419.9 467.5L420.7 466.7L420.7 511.1L421.2 496.2L421.2 463.7" stroke="#ff1a1a" stroke-width="0.6" fill="none" stroke-linejoin="bevel"/>
<path d="M105.1 472.4 105.9 472.6 106.7 472.5 107.5 470.9 108.3 472.8 109.1 470.7 109.9 469.9 110.7 473.2 111.5 472.5 112.3 472.6 113.1 472.3 113.9 470.7 114.7 473.2 115.5 471.1 116.3 470 117.1 472.1 117.9 469.6 118.7 471.9 119.5 469.5 120.3 471.9 121.1 471.3 121.9 472.5 122.7 472.3 123.5 470.6 124.3 472.2 125.1 470.9 125.9 472.5 126.7 471.1 127.5 472.4 128.3 470.1 129.1 471.1 129.9 470.8 130.7 472.9 131.5 472.8 132.3 472.1 133.1 473 133.9 473.7 134.7 470.9 135.5 471 136.3 472.2 137.1 472.3 137.9 472.7 138.7 471.8 139.5 471 140.3 471 141.1 473.8 141.9 473.7 142.7 472.3 143.5 471.2 144.3 473.8 145.1 472.9 145.9 474.6 146.7 473.7 147.5 475.3 148.3 471.8 149.1 474.7 149.9 472 150.7 474 151.5 473.4 152.3 475.4 153.1 474.9 153.9 474.8 154.7 473.4 155.5 472.8 156.3 475.1 157.1 474.7 157.9 473 158.7 474.8 159.5 476.3 160.3 476.1 161.1 474 161.9 476.5 162.7 477 163.5 475.1 164.3 477.7 165.1 476.8 165.9 474.4 166.7 477.2 167.5 478.2 168.3 478 169.1 476.4 169.9 476.4 170.7 478 171.5 478.7 172.3 476.9 173.1 479.5 173.9 476.8 174.7 477 175.5 478.9 176.3 479 177.1 476.7 177.9 480.7 178.7 479.4 179.5 478.1 180.3 479.8 181.1 478.9 181.9 478 182.7 478.8 183.5 482 184.3 480.6 185.1 479.2 185.9 481.3 186.7 479.1 187.5 480.3 188.3 481.2 189.1 483.4 189.9 482.8 190.7 482.1 191.5 484.2 192.3 484.1 193.1 484.3 193.9 482 194.7 483.3 195.5 482.5 196.3 485.1 197.1 486.1 197.9 483.4 198.7 483 199.5 483.3 200.3 483.6 201.1 485.2 201.9 484.5 202.7 484.3 203.5 486.8 204.3 487.4 205.1 487.9 205.9 488.1 206.7 486.4 207.5 489.4 208.3 489.9 209.1 489.4 209.9 487.6 210.7 489.8 211.5 490 212.3 491.1 213.1 491 213.9 491.7 214.7 493.1 215.5 492.4 216.3 493.9 217.1 494.3 217.9 493.7 218.7 492.6 219.5 493.2 220.3 495 221.1 496.8 221.9 495.5 222.7 497.3 223.5 498.1 224.3 499.1 225.1 499.4 225.9 496.8 226.7 498.8 227.5 497.9 228.3 499.7 229.1 499.9 229.9 500.2 230.7 503.1 231.5 501.5 232.3 503.6 233.1 502.7 233.9 506 234.7 506.3 235.5 507.1 236.3 508.8 237.1 509.6 237.9 508.8 238.7 512.2 239.5 510.7 240.3 514.7 241.1 514.5 241.9 516.3 242.7 517.9 243.5 518.7 244.3 518 245.1 519.9 245.9 522.8 246.7 523 247.5 528.6 248.3 529.1 249.1 533.4 249.9 533.7 250.7 538.1 251.5 540.8 252.3 541.5 253.1 539.9 253.9 538.3 254.7 534.6 255.5 533.7 256.3 531.9 257.1 530.8 257.9 531.3 258.7 530.5 259.5 530.9 260.3 527.7 261.1 527.3 261.9 527.7 262.7 528.8 263.5 531 264.3 530.1 265.1 530.8 265.9 529 266.7 528.1 267.5 528.4 268.3 531 269.1 530.3 269.9 533.5 270.7 531.9 271.5 536.9 272.3 535.6 273.1 539.5 273.9 542 274.7 539.8 275.5 536.9 276.3 536.2 277.1 534.2 277.9 529.7 278.7 527.6 279.5 526.3 280.3 525 281.1 521.2 281.9 518.4 282.7 517.2 283.5 516.6 284.3 514.1 285.1 515.3 285.9 512.1 286.7 513.4 287.5 512.3 288.3 510.6 289.1 507.6 289.9 507.9 290.7 506.2 291.5 504.8 292.3 503.7 293.1 504.6 293.9 504 294.7 502 295.5 504 296.3 502.9 297.1 501.8 297.9 499.3 298.7 498.5 299.5 497.7 300.3 496.6 301.1 498.7 301.9 497.6 302.7 498.4 303.5 497.6 304.3 494.8 305.1 495.3 305.9 494 306.7 495.7 307.5 492.6 308.3 494.4 309.1 492.7 309.9 492 310.7 490.8 311.5 491.9 312.3 491.1 313.1 491.2 313.9 489 314.7 490.1 315.5 491.5 316.3 487.6 317.1 489.8 317.9 487.7 318.7 487.1 319.5 489.3 320.3 485.6 321.1 488.2 321.9 485.4 322.7 487.8 323.5 487.8 324.3 487.5 325.1 486.6 325.9 484.9 326.7 486.8 327.5 485.4 328.3 484.7 329.1 485.8 329.9 483.3 330.7 483 331.5 484.6 332.3 483 333.1 484.5 333.9 484.5 334.7 481.8 335.5 480.3 336.3 482.4 337.1 481.2 337.9 480 338.7 480.1 339.5 479.3 340.3 482.5 341.1 481.9 341.9 481.9 342.7 479.5 343.5 478.2 344.3 480 345.1 477.6 345.9 479.2 346.7 479.1 347.5 478.1 348.3 478.6 349.1 479.2 349.9 477.2 350.7 479.2 351.5 477.2 352.3 477.8 353.1 475.7 353.9 476 354.7 478.1 355.5 476.2 356.3 475.3 357.1 475.7 357.9 476.9 358.7 475.1 359.5 477.8 360.3 476.9 361.1 477.9 361.9 477.8 362.7 477.7 363.5 475 364.3 474.8 365.1 476 365.9 477.1 366.7 473.6 367.5 477 368.3 476.5 369.1 476.3 369.9 473.3 370.7 474.4 371.5 473.6 372.3 472.7 373.1 473.9 373.9 472.5 374.7 473.7 375.5 472.7 376.3 474.9 377.1 472 377.9 474 378.7 473.4 379.5 474.5 380.3 473.5 381.1 471.7 381.9 472.7 382.7 475 383.5 474.2 384.3 473.4 385.1 471.7 385.9 471.9 386.7 472.1 387.5 472.5 388.3 471.2 389.1 472.7 389.9 471.7 390.7 473.7 391.5 470.8 392.3 470.6 393.1 473.6 393.9 473.1 394.7 471.6 395.5 473.3 396.3 470.4 397.1 470.8 397.9 470.1 398.7 470.2 399.5 471.9 400.3 473.2 401.1 471.4 401.9 470.2 402.7 471.9 403.5 470.4 404.3 470.7 405.1 470 405.9 471.9 406.7 472.2 407.5 473.3 408.3 469.7 409.1 471.6 409.9 471.2 410.7 471.5 411.5 472.5 412.3 471.7 413.1 470.7 413.9 469.4 414.7 470.6 415.5 471.4 416.3 473 417.1 472.9 417.9 472.7 418.7 471.2 419.5 472.2 420.3 471.7 421.1 471.9 L421.1 497.8 420.3 500.3 419.5 497.4 418.7 500.1 417.9 495.4 417.1 499.5 416.3 497.5 415.5 498.8 414.7 496.7 413.9 496.6 413.1 497.5 412.3 498.5 411.5 498.3 410.7 498.3 409.9 498.2 409.1 500.2 408.3 498.5 407.5 496.9 406.7 499.4 405.9 500.1 405.1 499.8 404.3 497.8 403.5 499.5 402.7 497.9 401.9 500.4 401.1 500.2 400.3 499.5 399.5 498.4 398.7 499.7 397.9 500 397.1 498.6 396.3 499.7 395.5 496.5 394.7 498.1 393.9 496.5 393.1 498 392.3 497.6 391.5 498.2 390.7 501.4 389.9 498 389.1 501.3 388.3 499 387.5 497.3 386.7 501.7 385.9 498.9 385.1 499.9 384.3 499.4 383.5 498 382.7 497.6 381.9 501 381.1 502 380.3 499.1 379.5 501.3 378.7 501.1 377.9 502.1 377.1 502.3 376.3 501.4 375.5 498.7 374.7 501.5 373.9 499 373.1 500.6 372.3 501.5 371.5 499.4 370.7 500.6 369.9 501.5 369.1 503 368.3 503.3 367.5 502.3 366.7 503.4 365.9 500.3 365.1 503.2 364.3 500.5 363.5 501.3 362.7 500.3 361.9 504.6 361.1 501.6 360.3 501.9 359.5 504.3 358.7 501.8 357.9 502.3 357.1 503.7 356.3 505.4 355.5 504.2 354.7 503.1 353.9 505.9 353.1 503.5 352.3 504.3 351.5 502.4 350.7 503.2 349.9 506.2 349.1 506.9 348.3 503.8 347.5 504.3 346.7 506 345.9 507.6 345.1 504.4 344.3 504.1 343.5 507.3 342.7 508.4 341.9 506.4 341.1 509 340.3 509 339.5 508.5 338.7 507.5 337.9 509.7 337.1 509 336.3 507.1 335.5 509.6 334.7 509.2 333.9 506.8 333.1 509.4 332.3 510.2 331.5 508.9 330.7 509.5 329.9 511.3 329.1 511.7 328.3 510.5 327.5 511.5 326.7 511 325.9 510.2 325.1 514.4 324.3 511.6 323.5 514.8 322.7 512.5 321.9 515.6 321.1 512.1 320.3 512.3 319.5 513.3 318.7 517.1 317.9 514.1 317.1 515.9 316.3 517.3 315.5 516 314.7 515.1 313.9 516.2 313.1 515.1 312.3 516.4 311.5 520.5 310.7 519.8 309.9 520.3 309.1 522 308.3 518.6 307.5 522.7 306.7 522.4 305.9 519.4 305.1 522.3 304.3 520 303.5 525 302.7 523.8 301.9 525.9 301.1 524.8 300.3 525.1 299.5 525.1 298.7 524.8 297.9 525.6 297.1 526.9 296.3 528.3 295.5 529.6 294.7 529.1 293.9 528.7 293.1 530.2 292.3 531.2 291.5 531.2 290.7 531.7 289.9 534.5 289.1 536.7 288.3 537.8 287.5 538.9 286.7 537.1 285.9 541.9 285.1 540.4 284.3 542.5 283.5 545 282.7 546.7 281.9 547.7 281.1 545.4 280.3 550.2 279.5 550.3 278.7 556.2 277.9 557.7 277.1 557.6 276.3 562.3 275.5 566.7 274.7 567.1 273.9 568.9 273.1 565.9 272.3 563.9 271.5 563.5 270.7 560.6 269.9 557.7 269.1 557.1 268.3 557.4 267.5 555.8 266.7 558.7 265.9 556.4 265.1 558.4 264.3 554.3 263.5 556 262.7 555.8 261.9 556.2 261.1 555.7 260.3 556.4 259.5 554.6 258.7 555.3 257.9 559.7 257.1 557.5 256.3 560.8 255.5 561.2 254.7 560.1 253.9 565.5 253.1 566.8 252.3 567.2 251.5 567.5 250.7 564.1 249.9 563 249.1 557.2 248.3 556.7 247.5 552.4 246.7 552.9 245.9 550.1 245.1 546.8 244.3 544 243.5 545.6 242.7 544.5 241.9 540.3 241.1 541.3 240.3 541.3 239.5 537.5 238.7 534.8 237.9 538 237.1 534.7 236.3 534.4 235.5 532.5 234.7 532.9 233.9 533.9 233.1 530.5 232.3 528.9 231.5 528.9 230.7 529 229.9 527.3 229.1 526.6 228.3 528.1 227.5 523.8 226.7 526.4 225.9 526.1 225.1 526.4 224.3 524.3 223.5 523.3 222.7 523.7 221.9 520 221.1 524.2 220.3 522.7 219.5 519 218.7 520.8 217.9 518.1 217.1 520.9 216.3 521.1 215.5 520.1 214.7 516.6 213.9 516.9 213.1 518.1 212.3 515.4 211.5 518 210.7 514.5 209.9 517.7 209.1 516.1 208.3 516.4 207.5 513 206.7 513.3 205.9 513.2 205.1 515.5 204.3 515.8 203.5 514.2 202.7 514.7 201.9 511.5 201.1 510.3 200.3 509.6 199.5 511.4 198.7 509.8 197.9 508.8 197.1 512.5 196.3 510.8 195.5 512.6 194.7 510.9 193.9 510.9 193.1 509.4 192.3 509.2 191.5 508.1 190.7 509.6 189.9 508.9 189.1 507.6 188.3 507 187.5 505.5 186.7 506.6 185.9 509.3 185.1 507.5 184.3 505.3 183.5 508 182.7 507.2 181.9 508.8 181.1 508.4 180.3 505.9 179.5 504.2 178.7 507.9 177.9 504.7 177.1 504.5 176.3 504.6 175.5 505 174.7 503.4 173.9 502.5 173.1 505.7 172.3 502.6 171.5 504.8 170.7 506.2 169.9 504.7 169.1 505 168.3 503 167.5 501.9 166.7 501.8 165.9 504.4 165.1 502.3 164.3 504 163.5 500.8 162.7 500.8 161.9 499.9 161.1 504.1 160.3 500.2 159.5 503.9 158.7 503.1 157.9 501.5 157.1 500.4 156.3 500.4 155.5 502 154.7 498.8 153.9 502.6 153.1 499.7 152.3 500.4 151.5 499.1 150.7 502.8 149.9 502.6 149.1 499.9 148.3 498.6 147.5 501.8 146.7 498.5 145.9 497.9 145.1 501.6 144.3 500.1 143.5 498.7 142.7 498.8 141.9 497.9 141.1 501.6 140.3 498.4 139.5 497.6 138.7 500.4 137.9 500.4 137.1 500.8 136.3 497.7 135.5 498.1 134.7 496.6 133.9 498.5 133.1 498.1 132.3 496.7 131.5 498.1 130.7 499.5 129.9 497.6 129.1 499.3 128.3 497 127.5 500.6 126.7 496.6 125.9 498.1 125.1 499 124.3 496.3 123.5 496.7 122.7 500.4 121.9 497.6 121.1 499.5 120.3 498 119.5 496.1 118.7 500.2 117.9 496 117.1 498.7 116.3 500.4 115.5 499.9 114.7 497.5 113.9 497.6 113.1 498 112.3 497.3 111.5 499.7 110.7 497.9 109.9 499.3 109.1 496.1 108.3 499.7 107.5 496.2 106.7 495.8 105.9 499.8 105.1 497.9Z" fill="#000" stroke="none"/>
<path d="M105.1 470.6L105.1 495.4L105.9 498.3L105.9 469.5L106.7 468L106.7 497.5L107.5 517.1L107.5 470.9L108.3 468.6L108.3 494L109.1 503.2L109.1 468.1L109.9 468.1L109.9 497.6L110.7 501.8L110.7 465.6L111.5 467.2L111.5 522.7L112.3 495.5L112.3 465.9L113.1 468L113.1 508.6L113.9 510.8L113.9 471L114.7 468.3L114.7 496.3L115.5 495.6L115.5 465L116.3 469.3L116.3 499.7L117.1 518.5L117.1 464.9L117.9 469L117.9 530.9L118.7 502.8L118.7 472.3L119.5 469.8L119.5 495L120.3 514.2L120.3 467L121.1 469.5L121.1 505.3L121.9 503.7L121.9 468.4L122.7 469.7L122.7 519.4L123.5 506.4L123.5 469.7L124.3 467.5L124.3 502.2L125.1 496.1L125.1 469.2L125.9 468.9L125.9 506.9L126.7 500.6L126.7 469.7L127.5 469.5L127.5 526.7L128.3 505.8L128.3 472.2L129.1 467.9L129.1 516.1L129.9 508.9L129.9 468.4L130.7 468.3L130.7 507.8L131.5 494.8L131.5 470.9L132.3 471.6L132.3 531.7L133.1 505.4L133.1 470.5L133.9 471.3L133.9 494.9L134.7 501.9L134.7 463.9L135.5 471.9L135.5 516L136.3 510.2L136.3 470.9L137.1 473.1L137.1 503.7L137.9 501.9L137.9 467.7L138.7 470L138.7 517.6L139.5 495.8L139.5 471.6L140.3 470.9L140.3 500.2L141.1 521.5L141.1 471.6L141.9 470.8L141.9 532.5L142.7 503L142.7 469.9L143.5 474.6L143.5 496.9L144.3 512.1L144.3 469L145.1 471.2L145.1 498L145.9 505.8L145.9 471.3L146.7 471L146.7 502L147.5 499.2L147.5 465.4L148.3 471.6L148.3 501L149.1 504.9L149.1 473.4L149.9 472.5L149.9 508.9L150.7 503.5L150.7 470.2L151.5 471.2L151.5 514.4L152.3 520.5L152.3 469.9L153.1 475.6L153.1 498.1L153.9 500.1L153.9 473.4L154.7 471.8L154.7 498.3L155.5 500.5L155.5 474.5L156.3 473.3L156.3 517.5L157.1 499.8L157.1 475.1L157.9 474.5L157.9 503.8L158.7 501.7L158.7 473.3L159.5 473.3L159.5 510.4L160.3 499.2L160.3 475.4L161.1 475.4L161.1 500L161.9 512.6L161.9 473.4L162.7 472.7L162.7 518.6L163.5 509.9L163.5 474L164.3 473.2L164.3 503.2L165.1 502.8L165.1 473.7L165.9 475.8L165.9 508L166.7 536L166.7 473.7L167.5 472.5L167.5 505.1L168.3 504.8L168.3 476.7L169.1 475.6L169.1 505.5L169.9 500.6L169.9 475.4L170.7 470.4L170.7 500.8L171.5 515.5L171.5 476.9L172.3 475.7L172.3 523.2L173.1 511.8L173.1 473.1L173.9 473L173.9 516.1L174.7 515.4L174.7 476.8L175.5 475.5L175.5 527L176.3 516.4L176.3 477.6L177.1 480.2L177.1 530.2L177.9 501.5L177.9 474.6L178.7 477.7L178.7 503.2L179.5 503.6L179.5 477.5L180.3 475.5L180.3 528.5L181.1 513.1L181.1 476.5L181.9 476.4L181.9 505.1L182.7 511.2L182.7 476.6L183.5 478.2L183.5 503L184.3 503.3L184.3 477.1L185.1 477.2L185.1 513.9L185.9 504.8L185.9 474.2L186.7 482.5L186.7 530.8L187.5 509.3L187.5 481.3L188.3 476.9L188.3 515.6L189.1 520.4L189.1 476.5L189.9 479.5L189.9 505.5L190.7 509.8L190.7 482.4L191.5 481.2L191.5 525.3L192.3 505.5L192.3 480.7L193.1 485.2L193.1 515L193.9 517L193.9 480.9L194.7 481.9L194.7 513.6L195.5 508.5L195.5 480.1L196.3 482.8L196.3 509.2L197.1 525.4L197.1 482.1L197.9 482.1L197.9 539.9L198.7 511.8L198.7 482.2L199.5 483.6L199.5 518.7L200.3 520.9L200.3 482.6L201.1 483.1L201.1 515.7L201.9 513.3L201.9 484.2L202.7 479.7L202.7 513.1L203.5 522.7L203.5 485.7L204.3 485L204.3 525.3L205.1 518.4L205.1 487.1L205.9 484.2L205.9 510.8L206.7 514.9L206.7 487L207.5 486.8L207.5 527.6L208.3 514.4L208.3 485.8L209.1 485.4L209.1 532.5L209.9 531.1L209.9 487.8L210.7 485.4L210.7 527.3L211.5 525.3L211.5 486.8L212.3 490.8L212.3 527.6L213.1 514.5L213.1 489.2L213.9 488.2L213.9 550.7L214.7 517.4L214.7 489.8L215.5 488.6L215.5 522.3L216.3 533.3L216.3 487.6L217.1 493.4L217.1 519.2L217.9 525.2L217.9 493.2L218.7 490L218.7 544.6L219.5 518.3L219.5 493.5L220.3 493.4L220.3 525L221.1 525.4L221.1 493.5L221.9 492.2L221.9 526.3L222.7 527.7L222.7 493.9L223.5 495.4L223.5 522.8L224.3 536.7L224.3 495.3L225.1 491.6L225.1 520.4L225.9 522.9L225.9 495.7L226.7 498.7L226.7 530.9L227.5 522.9L227.5 497.1L228.3 497.4L228.3 545.5L229.1 541.9L229.1 501L229.9 499.8L229.9 526.1L230.7 559.2L230.7 499.6L231.5 498.8L231.5 526.9L232.3 537.5L232.3 501.1L233.1 501.6L233.1 535.4L233.9 528.9L233.9 506L234.7 503.4L234.7 539.4L235.5 557.8L235.5 504.6L236.3 505.6L236.3 567.2L237.1 531.8L237.1 508.3L237.9 506.5L237.9 536.2L238.7 534.2L238.7 509.8L239.5 510.7L239.5 543.4L240.3 542.9L240.3 509.3L241.1 508.9L241.1 538.6L241.9 553.2L241.9 509.2L242.7 515.2L242.7 539.5L243.5 541.8L243.5 516.2L244.3 518.6L244.3 546.3L245.1 552.1L245.1 522.6L245.9 520.8L245.9 566L246.7 567.9L246.7 522.9L247.5 523.9L247.5 557.4L248.3 559.1L248.3 527.1L249.1 530.8L249.1 580.4L249.9 587.8L249.9 532.5L250.7 534.3L250.7 578.8L251.5 565.5L251.5 538.9L252.3 540L252.3 573.3L253.1 565.8L253.1 540.1L253.9 536.8L253.9 566.7L254.7 560.8L254.7 533.2L255.5 532.4L255.5 561.5L256.3 563.5L256.3 533.5L257.1 528.1L257.1 557.9L257.9 581.2L257.9 527.8L258.7 529.3L258.7 562.4L259.5 560.9L259.5 527.7L260.3 528.2L260.3 556.5L261.1 555.1L261.1 526.6L261.9 522.7L261.9 578.2L262.7 559.5L262.7 522.3L263.5 529L263.5 564L264.3 554L264.3 526.7L265.1 528.2L265.1 584.3L265.9 559.6L265.9 527.9L266.7 526.9L266.7 556.8L267.5 563L267.5 528.9L268.3 528.6L268.3 566.7L269.1 591L269.1 528.6L269.9 527.9L269.9 555L270.7 564L270.7 531.1L271.5 534.1L271.5 567.7L272.3 581.6L272.3 532.2L273.1 538.6L273.1 564.6L273.9 566.5L273.9 538.8L274.7 535.1L274.7 570.1L275.5 564.5L275.5 535.6L276.3 529.5L276.3 566.6L277.1 571.4L277.1 529.9L277.9 528.2L277.9 577.1L278.7 552L278.7 524.4L279.5 521.7L279.5 568.3L280.3 572L280.3 521.1L281.1 522.7L281.1 545.4L281.9 543.4L281.9 515.6L282.7 514.6L282.7 563.8L283.5 545.3L283.5 513.3L284.3 514.1L284.3 573.7L285.1 547.1L285.1 508.9L285.9 509.4L285.9 536.2L286.7 544.1L286.7 509L287.5 508.7L287.5 542.1L288.3 544L288.3 510.5L289.1 502.5L289.1 532.9L289.9 530.9L289.9 507.8L290.7 506.2L290.7 531.9L291.5 537L291.5 502.7L292.3 505L292.3 530.1L293.1 528.2L293.1 506.7L293.9 501.1L293.9 527.4L294.7 527.7L294.7 501.2L295.5 499.5L295.5 528.1L296.3 536.3L296.3 498.5L297.1 501.4L297.1 524.5L297.9 546.9L297.9 499.2L298.7 495.1L298.7 525.9L299.5 522.3L299.5 500.3L300.3 493.9L300.3 533.8L301.1 528.6L301.1 494.1L301.9 493.8L301.9 521.5L302.7 523.9L302.7 493.1L303.5 494.3L303.5 520.8L304.3 535.6L304.3 493.9L305.1 492.2L305.1 520.2L305.9 525.5L305.9 491.9L306.7 493.1L306.7 536L307.5 528.2L307.5 490.3L308.3 491.9L308.3 520.6L309.1 529.4L309.1 491.4L309.9 489.6L309.9 527.6L310.7 521.5L310.7 487.8L311.5 489.8L311.5 538.5L312.3 514.2L312.3 489.6L313.1 489.2L313.1 516.4L313.9 536.1L313.9 489.6L314.7 484.5L314.7 514.1L315.5 520.4L315.5 486.9L316.3 486.4L316.3 523L317.1 513.2L317.1 486.6L317.9 487.9L317.9 512.4L318.7 512.8L318.7 486L319.5 482.4L319.5 512L320.3 522.3L320.3 487.4L321.1 486L321.1 511.4L321.9 511.6L321.9 484.7L322.7 484.5L322.7 511.9L323.5 509.8L323.5 486.4L324.3 486.7L324.3 523.2L325.1 518.8L325.1 484.8L325.9 483.5L325.9 521.3L326.7 515.2L326.7 482.7L327.5 482.5L327.5 507.9L328.3 539.9L328.3 481.1L329.1 479.8L329.1 519.7L329.9 514.7L329.9 480.5L330.7 479.4L330.7 543.2L331.5 531.1L331.5 479.9L332.3 479.6L332.3 510.6L333.1 506L333.1 479.3L333.9 479.4L333.9 519L334.7 511L334.7 482.3L335.5 482.6L335.5 511.4L336.3 518.8L336.3 480.6L337.1 478.7L337.1 504.3L337.9 513.7L337.9 481.4L338.7 477.9L338.7 515.6L339.5 520.9L339.5 479.4L340.3 474.8L340.3 532.5L341.1 511L341.1 480L341.9 480.9L341.9 505.1L342.7 523.3L342.7 477.6L343.5 476.5L343.5 504.2L344.3 520.5L344.3 476.9L345.1 475.7L345.1 512.2L345.9 509.6L345.9 478.2L346.7 474.8L346.7 525.1L347.5 505L347.5 478.7L348.3 480.4L348.3 538.3L349.1 507.5L349.1 475.2L349.9 473.2L349.9 504.2L350.7 511.6L350.7 475.9L351.5 474.9L351.5 501L352.3 502.5L352.3 475.5L353.1 479.5L353.1 508.5L353.9 506.7L353.9 476.6L354.7 474.3L354.7 515.8L355.5 506.2L355.5 472.3L356.3 477L356.3 503.3L357.1 504.9L357.1 475.2L357.9 472.8L357.9 505.8L358.7 506.2L358.7 476L359.5 472.3L359.5 504.5L360.3 503.9L360.3 475L361.1 473.7L361.1 519.9L361.9 521.1L361.9 474.8L362.7 473.4L362.7 498.5L363.5 498.7L363.5 472.3L364.3 472.3L364.3 513.2L365.1 499.4L365.1 474.6L365.9 473.5L365.9 525.5L366.7 505.3L366.7 471L367.5 474.2L367.5 497.7L368.3 498L368.3 473.2L369.1 475.3L369.1 512.3L369.9 528.1L369.9 469.8L370.7 470.6L370.7 506.6L371.5 498.9L371.5 471.1L372.3 472.7L372.3 497.2L373.1 497.8L373.1 472.8L373.9 472.8L373.9 509.7L374.7 518L374.7 473L375.5 475.8L375.5 497.9L376.3 502.4L376.3 471.5L377.1 473.8L377.1 498.1L377.9 503.5L377.9 470.3L378.7 469L378.7 499.5L379.5 501.5L379.5 473.3L380.3 468.8L380.3 505.2L381.1 497.9L381.1 470.1L381.9 471.2L381.9 513.7L382.7 504.6L382.7 473.7L383.5 470.2L383.5 500.8L384.3 498.5L384.3 472.3L385.1 472.1L385.1 515.4L385.9 495.6L385.9 473L386.7 471.9L386.7 501.9L387.5 507.5L387.5 472.8L388.3 471.2L388.3 508L389.1 519.8L389.1 469.1L389.9 472.5L389.9 507.6L390.7 501.1L390.7 472.4L391.5 472L391.5 507.3L392.3 504.8L392.3 467.7L393.1 471.1L393.1 495.1L393.9 509.7L393.9 466.5L394.7 471.5L394.7 498.3L395.5 518.9L395.5 468.8L396.3 468.9L396.3 520.2L397.1 501.6L397.1 468.6L397.9 469.1L397.9 494.8L398.7 502.7L398.7 471.6L399.5 469.9L399.5 531.3L400.3 497.7L400.3 470.9L401.1 472.2L401.1 502.2L401.9 531.2L401.9 471.6L402.7 470L402.7 499.5L403.5 507.6L403.5 467.1L404.3 472.2L404.3 494.8L405.1 496.3L405.1 467.7L405.9 471.9L405.9 512.3L406.7 494.5L406.7 468.7L407.5 472.9L407.5 496.8L408.3 501.8L408.3 469.7L409.1 469.3L409.1 512.6L409.9 501.1L409.9 471.5L410.7 467.3L410.7 502.8L411.5 498.7L411.5 472.9L412.3 465.2L412.3 503.6L413.1 502.2L413.1 469.1L413.9 468.7L413.9 512.4L414.7 500.7L414.7 469.1L415.5 467.9L415.5 509.9L416.3 500.1L416.3 463.4L417.1 470.7L417.1 504.5L417.9 496.7L417.9 470.3L418.7 469.4L418.7 500.8L419.5 530.7L419.5 468.6L420.3 467.6L420.3 498.1L421.1 496.9L421.1 469.2" stroke="#000" stroke-width="0.75" fill="none" stroke-linejoin="bevel"/>
<path d="M257.4 420V531.9M261.1 420V531.9" stroke="#6a6a6a" stroke-width="1" fill="none"/>
<path d="M105.1 480.9L105.5 480.9L105.9 480.9L106.3 480.9L106.7 480.9L107.1 480.9L107.5 480.9L107.9 480.9L108.3 480.9L108.7 480.9L109.1 480.9L109.5 480.9L109.9 480.9L110.3 480.9L110.7 480.9L111.1 480.9L111.5 480.9L111.9 480.9L112.3 481L112.7 481L113.1 481L113.5 481L113.9 481L114.3 481L114.7 481L115.1 481L115.5 481L115.9 481L116.3 481.1L116.7 481.1L117.1 481.1L117.5 481.1L117.9 481.1L118.3 481.1L118.7 481.1L119.1 481.1L119.5 481.2L119.9 481.2L120.3 481.2L120.7 481.2L121.1 481.2L121.5 481.2L121.9 481.3L122.3 481.3L122.7 481.3L123.1 481.3L123.5 481.3L123.9 481.3L124.3 481.4L124.7 481.4L125.1 481.4L125.5 481.4L125.9 481.4L126.3 481.5L126.7 481.5L127.1 481.5L127.5 481.5L127.9 481.6L128.3 481.6L128.7 481.6L129.1 481.6L129.5 481.7L129.9 481.7L130.3 481.7L130.7 481.7L131.1 481.8L131.5 481.8L131.9 481.8L132.3 481.9L132.7 481.9L133.1 481.9L133.5 481.9L133.9 482L134.3 482L134.7 482L135.1 482.1L135.5 482.1L135.9 482.1L136.3 482.2L136.7 482.2L137.1 482.2L137.5 482.3L137.9 482.3L138.3 482.3L138.7 482.4L139.1 482.4L139.5 482.4L139.9 482.5L140.3 482.5L140.7 482.6L141.1 482.6L141.5 482.6L141.9 482.7L142.3 482.7L142.7 482.8L143.1 482.8L143.5 482.8L143.9 482.9L144.3 482.9L144.7 483L145.1 483L145.5 483L145.9 483.1L146.3 483.1L146.7 483.2L147.1 483.2L147.5 483.3L147.9 483.3L148.3 483.4L148.7 483.4L149.1 483.5L149.5 483.5L149.9 483.6L150.3 483.6L150.7 483.7L151.1 483.7L151.5 483.8L151.9 483.8L152.3 483.9L152.7 483.9L153.1 484L153.5 484L153.9 484.1L154.3 484.1L154.7 484.2L155.1 484.2L155.5 484.3L155.9 484.4L156.3 484.4L156.7 484.5L157.1 484.5L157.5 484.6L157.9 484.7L158.3 484.7L158.7 484.8L159.1 484.8L159.5 484.9L159.9 485L160.3 485L160.7 485.1L161.1 485.2L161.5 485.2L161.9 485.3L162.3 485.4L162.7 485.4L163.1 485.5L163.5 485.6L163.9 485.6L164.3 485.7L164.7 485.8L165.1 485.8L165.5 485.9L165.9 486L166.3 486L166.7 486.1L167.1 486.2L167.5 486.3L167.9 486.3L168.3 486.4L168.7 486.5L169.1 486.6L169.5 486.6L169.9 486.7L170.3 486.8L170.7 486.9L171.1 487L171.5 487L171.9 487.1L172.3 487.2L172.7 487.3L173.1 487.4L173.5 487.5L173.9 487.5L174.3 487.6L174.7 487.7L175.1 487.8L175.5 487.9L175.9 488L176.3 488.1L176.7 488.2L177.1 488.2L177.5 488.3L177.9 488.4L178.3 488.5L178.7 488.6L179.1 488.7L179.5 488.8L179.9 488.9L180.3 489L180.7 489.1L181.1 489.2L181.5 489.3L181.9 489.4L182.3 489.5L182.7 489.6L183.1 489.7L183.5 489.8L183.9 489.9L184.3 490L184.7 490.1L185.1 490.2L185.5 490.3L185.9 490.4L186.3 490.5L186.7 490.7L187.1 490.8L187.5 490.9L187.9 491L188.3 491.1L188.7 491.2L189.1 491.3L189.5 491.4L189.9 491.6L190.3 491.7L190.7 491.8L191.1 491.9L191.5 492L191.9 492.2L192.3 492.3L192.7 492.4L193.1 492.5L193.5 492.7L193.9 492.8L194.3 492.9L194.7 493.1L195.1 493.2L195.5 493.3L195.9 493.4L196.3 493.6L196.7 493.7L197.1 493.9L197.5 494L197.9 494.1L198.3 494.3L198.7 494.4L199.1 494.6L199.5 494.7L199.9 494.8L200.3 495L200.7 495.1L201.1 495.3L201.5 495.4L201.9 495.6L202.3 495.7L202.7 495.9L203.1 496L203.5 496.2L203.9 496.4L204.3 496.5L204.7 496.7L205.1 496.8L205.5 497L205.9 497.2L206.3 497.3L206.7 497.5L207.1 497.7L207.5 497.9L207.9 498L208.3 498.2L208.7 498.4L209.1 498.6L209.5 498.7L209.9 498.9L210.3 499.1L210.7 499.3L211.1 499.5L211.5 499.7L211.9 499.9L212.3 500.1L212.7 500.3L213.1 500.5L213.5 500.7L213.9 500.9L214.3 501.1L214.7 501.3L215.1 501.5L215.5 501.7L215.9 501.9L216.3 502.1L216.7 502.3L217.1 502.6L217.5 502.8L217.9 503L218.3 503.2L218.7 503.5L219.1 503.7L219.5 503.9L219.9 504.2L220.3 504.4L220.7 504.6L221.1 504.9L221.5 505.1L221.9 505.4L222.3 505.7L222.7 505.9L223.1 506.2L223.5 506.4L223.9 506.7L224.3 507L224.7 507.3L225.1 507.5L225.5 507.8L225.9 508.1L226.3 508.4L226.7 508.7L227.1 509L227.5 509.3L227.9 509.6L228.3 509.9L228.7 510.3L229.1 510.6L229.5 510.9L229.9 511.2L230.3 511.6L230.7 511.9L231.1 512.3L231.5 512.6L231.9 513L232.3 513.4L232.7 513.7L233.1 514.1L233.5 514.5L233.9 514.9L234.3 515.3L234.7 515.7L235.1 516.1L235.5 516.6L235.9 517L236.3 517.5L236.7 517.9L237.1 518.4L237.5 518.9L237.9 519.3L238.3 519.8L238.7 520.4L239.1 520.9L239.5 521.4L239.9 522L240.3 522.6L240.7 523.1L241.1 523.8L241.5 524.4L241.9 525L242.3 525.7L242.7 526.4L243.1 527.1L243.5 527.8L243.9 528.6L244.3 529.4L244.7 530.3L245.1 531.2L245.5 532.1L245.9 533.1L246.3 534.1L246.7 535.2L247.1 536.4L247.5 537.7L247.9 539L248.3 540.5L248.7 542.2L249.1 544L249.5 546L249.9 548.4L250.3 551.3L250.7 554.7L251.1 559.4L251.5 566.3L251.9 581.3L252.1 639.6L252.3 579.8L252.7 566.5L253.1 560.4L253.5 556.4L253.9 553.5L254.3 551.3L254.7 549.5L255.1 548L255.5 546.8L255.9 545.7L256.3 544.8L256.7 544.1L257.1 543.4L257.5 542.9L257.9 542.4L258.3 542L258.7 541.6L259.1 541.3L259.5 541.1L259.9 540.9L260.3 540.7L260.7 540.5L261.1 540.4L261.5 540.3L261.9 540.3L262.3 540.2L262.7 540.2L263.1 540.2L263.5 540.2L263.9 540.2L264.3 540.3L264.7 540.3L265.1 540.4L265.5 540.5L265.9 540.6L266.3 540.8L266.7 541L267.1 541.2L267.5 541.5L267.9 541.9L268.3 542.3L268.7 542.7L269.1 543.3L269.5 543.9L269.9 544.6L270.3 545.5L270.7 546.5L271.1 547.7L271.5 549.1L271.9 550.8L272.3 552.9L272.7 555.6L273.1 559.2L273.5 564.7L273.9 575L274.2 639.6L274.3 591.2L274.7 568.8L275.1 560.8L275.5 555.8L275.9 552.1L276.3 549.1L276.7 546.6L277.1 544.5L277.5 542.6L277.9 540.9L278.3 539.4L278.7 538L279.1 536.7L279.5 535.5L279.9 534.4L280.3 533.3L280.7 532.3L281.1 531.4L281.5 530.5L281.9 529.6L282.3 528.8L282.7 528L283.1 527.3L283.5 526.6L283.9 525.9L284.3 525.2L284.7 524.5L285.1 523.9L285.5 523.3L285.9 522.7L286.3 522.1L286.7 521.6L287.1 521L287.5 520.5L287.9 520L288.3 519.5L288.7 519L289.1 518.5L289.5 518L289.9 517.6L290.3 517.1L290.7 516.7L291.1 516.2L291.5 515.8L291.9 515.4L292.3 515L292.7 514.6L293.1 514.2L293.5 513.8L293.9 513.5L294.3 513.1L294.7 512.7L295.1 512.4L295.5 512L295.9 511.7L296.3 511.3L296.7 511L297.1 510.7L297.5 510.3L297.9 510L298.3 509.7L298.7 509.4L299.1 509.1L299.5 508.8L299.9 508.5L300.3 508.2L300.7 507.9L301.1 507.6L301.5 507.3L301.9 507.1L302.3 506.8L302.7 506.5L303.1 506.2L303.5 506L303.9 505.7L304.3 505.5L304.7 505.2L305.1 505L305.5 504.7L305.9 504.5L306.3 504.2L306.7 504L307.1 503.7L307.5 503.5L307.9 503.3L308.3 503.1L308.7 502.8L309.1 502.6L309.5 502.4L309.9 502.2L310.3 502L310.7 501.7L311.1 501.5L311.5 501.3L311.9 501.1L312.3 500.9L312.7 500.7L313.1 500.5L313.5 500.3L313.9 500.1L314.3 499.9L314.7 499.7L315.1 499.5L315.5 499.3L315.9 499.2L316.3 499L316.7 498.8L317.1 498.6L317.5 498.4L317.9 498.3L318.3 498.1L318.7 497.9L319.1 497.7L319.5 497.6L319.9 497.4L320.3 497.2L320.7 497.1L321.1 496.9L321.5 496.7L321.9 496.6L322.3 496.4L322.7 496.2L323.1 496.1L323.5 495.9L323.9 495.8L324.3 495.6L324.7 495.5L325.1 495.3L325.5 495.2L325.9 495L326.3 494.9L326.7 494.7L327.1 494.6L327.5 494.4L327.9 494.3L328.3 494.2L328.7 494L329.1 493.9L329.5 493.8L329.9 493.6L330.3 493.5L330.7 493.3L331.1 493.2L331.5 493.1L331.9 493L332.3 492.8L332.7 492.7L333.1 492.6L333.5 492.4L333.9 492.3L334.3 492.2L334.7 492.1L335.1 492L335.5 491.8L335.9 491.7L336.3 491.6L336.7 491.5L337.1 491.4L337.5 491.2L337.9 491.1L338.3 491L338.7 490.9L339.1 490.8L339.5 490.7L339.9 490.6L340.3 490.5L340.7 490.4L341.1 490.2L341.5 490.1L341.9 490L342.3 489.9L342.7 489.8L343.1 489.7L343.5 489.6L343.9 489.5L344.3 489.4L344.7 489.3L345.1 489.2L345.5 489.1L345.9 489L346.3 488.9L346.7 488.8L347.1 488.7L347.5 488.6L347.9 488.5L348.3 488.5L348.7 488.4L349.1 488.3L349.5 488.2L349.9 488.1L350.3 488L350.7 487.9L351.1 487.8L351.5 487.7L351.9 487.6L352.3 487.6L352.7 487.5L353.1 487.4L353.5 487.3L353.9 487.2L354.3 487.1L354.7 487.1L355.1 487L355.5 486.9L355.9 486.8L356.3 486.7L356.7 486.7L357.1 486.6L357.5 486.5L357.9 486.4L358.3 486.4L358.7 486.3L359.1 486.2L359.5 486.1L359.9 486.1L360.3 486L360.7 485.9L361.1 485.9L361.5 485.8L361.9 485.7L362.3 485.6L362.7 485.6L363.1 485.5L363.5 485.4L363.9 485.4L364.3 485.3L364.7 485.2L365.1 485.2L365.5 485.1L365.9 485L366.3 485L366.7 484.9L367.1 484.9L367.5 484.8L367.9 484.7L368.3 484.7L368.7 484.6L369.1 484.6L369.5 484.5L369.9 484.4L370.3 484.4L370.7 484.3L371.1 484.3L371.5 484.2L371.9 484.2L372.3 484.1L372.7 484L373.1 484L373.5 483.9L373.9 483.9L374.3 483.8L374.7 483.8L375.1 483.7L375.5 483.7L375.9 483.6L376.3 483.6L376.7 483.5L377.1 483.5L377.5 483.4L377.9 483.4L378.3 483.3L378.7 483.3L379.1 483.2L379.5 483.2L379.9 483.1L380.3 483.1L380.7 483.1L381.1 483L381.5 483L381.9 482.9L382.3 482.9L382.7 482.8L383.1 482.8L383.5 482.8L383.9 482.7L384.3 482.7L384.7 482.6L385.1 482.6L385.5 482.6L385.9 482.5L386.3 482.5L386.7 482.5L387.1 482.4L387.5 482.4L387.9 482.3L388.3 482.3L388.7 482.3L389.1 482.2L389.5 482.2L389.9 482.2L390.3 482.1L390.7 482.1L391.1 482.1L391.5 482L391.9 482L392.3 482L392.7 481.9L393.1 481.9L393.5 481.9L393.9 481.9L394.3 481.8L394.7 481.8L395.1 481.8L395.5 481.7L395.9 481.7L396.3 481.7L396.7 481.7L397.1 481.6L397.5 481.6L397.9 481.6L398.3 481.6L398.7 481.5L399.1 481.5L399.5 481.5L399.9 481.5L400.3 481.5L400.7 481.4L401.1 481.4L401.5 481.4L401.9 481.4L402.3 481.4L402.7 481.3L403.1 481.3L403.5 481.3L403.9 481.3L404.3 481.3L404.7 481.2L405.1 481.2L405.5 481.2L405.9 481.2L406.3 481.2L406.7 481.2L407.1 481.1L407.5 481.1L407.9 481.1L408.3 481.1L408.7 481.1L409.1 481.1L409.5 481.1L409.9 481.1L410.3 481L410.7 481L411.1 481L411.5 481L411.9 481L412.3 481L412.7 481L413.1 481L413.5 481L413.9 481L414.3 480.9L414.7 480.9L415.1 480.9L415.5 480.9L415.9 480.9L416.3 480.9L416.7 480.9L417.1 480.9L417.5 480.9L417.9 480.9L418.3 480.9L418.7 480.9L419.1 480.9L419.5 480.9L419.9 480.9L420.3 480.9L420.7 480.9L421.1 480.9" stroke="#0a0aff" stroke-width="1.9" fill="none" stroke-linejoin="round"/>
<path d="M243.4 400.8V648M282.9 400.8V648" stroke="#111" stroke-width="2.3" stroke-dasharray="8 5.3" stroke-dashoffset="-3.2" fill="none"/>
<path d="M105.1 400.3H421.2V647.0" stroke="#e6e6e6" stroke-width="0.8" fill="none"/>
<path d="M105.1 400.3V647.0H421.2" stroke="#555" stroke-width="0.9" fill="none"/>
<path d="M105.1 647.0v-3.2M144.6 647.0v-3.2M184.1 647.0v-3.2M223.6 647.0v-3.2M263.1 647.0v-3.2M302.7 647.0v-3.2M342.2 647.0v-3.2M381.7 647.0v-3.2M421.2 647.0v-3.2M105.1 400.3h3.2M105.1 482.5h3.2M105.1 564.8h3.2M105.1 647h3.2" stroke="#555" stroke-width="0.8" fill="none"/>
<g font-family="'Liberation Sans', sans-serif" font-size="11.3" fill="#484848" text-anchor="middle">
<text x="105.1" y="664">0</text>
<text x="144.6" y="664">0.5</text>
<text x="184.1" y="664">1</text>
<text x="223.6" y="664">1.5</text>
<text x="263.1" y="664">2</text>
<text x="302.7" y="664">2.5</text>
<text x="342.2" y="664">3</text>
<text x="381.7" y="664">3.5</text>
<text x="421.2" y="664">4</text>
</g>
<g font-family="'Liberation Sans', sans-serif" font-size="11.3" fill="#484848" text-anchor="end">
<text x="100.3" y="405.1">0</text>
<text x="100.3" y="487.3">-50</text>
<text x="100.3" y="569.6">-100</text>
<text x="100.3" y="651.8">-150</text>
</g>
<text x="263.4" y="681.4" font-family="'Liberation Sans', sans-serif" font-size="11.8" fill="#505050" text-anchor="middle" textLength="96.5" lengthAdjust="spacingAndGlyphs">Frequency [GHz]</text>
<text transform="translate(70.1 524.1) rotate(-90)" font-family="'Liberation Sans', sans-serif" font-size="11.8" fill="#505050" text-anchor="middle" textLength="86" lengthAdjust="spacingAndGlyphs">Magnitude [dB]</text>
<path d="M243.4 629.4H282.9M243.4 626.1999999999999v6.4M282.9 626.1999999999999v6.4" stroke="#111" stroke-width="1.5" fill="none"/>
<text x="263.1" y="624.2" font-family="'Liberation Sans', sans-serif" font-size="11.2" font-weight="bold" fill="#222" text-anchor="middle">BW</text>
</g>
<g id="spec2">
<rect x="562.2" y="403.0" width="313.2" height="243.2" fill="#fff"/>
<path d="M601.4 403.0V646.25M640.5 403.0V646.25M679.6 403.0V646.25M718.8 403.0V646.25M758 403.0V646.25M797.1 403.0V646.25M836.2 403.0V646.25M562.2 484.1H875.4M562.2 565.2H875.4" stroke="#dedede" stroke-width="0.8" fill="none"/>
<path d="M562.6 472.7 563.4 471.4 564.2 472.4 565 470.1 565.8 472.1 566.6 470.8 567.4 472.4 568.2 473.1 569 472.5 569.8 470.2 570.6 472.4 571.4 471.9 572.2 470.3 573 471.1 573.8 472.8 574.6 470.6 575.4 472.8 576.2 471.4 577 472.5 577.8 470.8 578.6 473.4 579.4 473.4 580.2 473 581 473.8 581.8 471.3 582.6 472 583.4 470.6 584.2 471.4 585 470.8 585.8 472.1 586.6 472 587.4 474.5 588.2 472.4 589 474.7 589.8 471.1 590.6 471.2 591.4 474.9 592.2 471.8 593 472 593.8 471.6 594.6 473.3 595.4 471.7 596.2 475.1 597 473 597.8 472.3 598.6 475.3 599.4 475.3 600.2 472.2 601 472.3 601.8 474.7 602.6 475.6 603.4 474.9 604.2 474.4 605 472.7 605.8 473.5 606.6 476.3 607.4 475.1 608.2 474 609 475.7 609.8 476.6 610.6 475.4 611.4 474.9 612.2 474.1 613 476.7 613.8 474.8 614.6 477.6 615.4 474.5 616.2 476.8 617 477.7 617.8 476.6 618.6 474.6 619.4 476 620.2 474.9 621 478.2 621.8 475.7 622.6 475.8 623.4 476.4 624.2 478.4 625 477.5 625.8 476.5 626.6 479.2 627.4 479.6 628.2 476.4 629 480 629.8 478.3 630.6 480.2 631.4 480 632.2 478.9 633 477.7 633.8 479.9 634.6 479.7 635.4 478 636.2 479.5 637 480.5 637.8 480.4 638.6 482.3 639.4 482.1 640.2 481.4 641 480.7 641.8 482.7 642.6 483.3 643.4 483.4 644.2 482.3 645 482.4 645.8 482.6 646.6 481.1 647.4 482.7 648.2 481.2 649 482.5 649.8 483.9 650.6 483.7 651.4 482.2 652.2 485.9 653 483.6 653.8 484.4 654.6 486.6 655.4 484.5 656.2 486.5 657 487.8 657.8 486.2 658.6 485.4 659.4 487.2 660.2 485.7 661 486.1 661.8 486.5 662.6 487.1 663.4 488.5 664.2 488.7 665 487.5 665.8 489.5 666.6 488.9 667.4 491.3 668.2 489.8 669 492.6 669.8 492.5 670.6 491.3 671.4 493.1 672.2 492 673 492.2 673.8 493.7 674.6 495.2 675.4 493.6 676.2 494.4 677 495.9 677.8 495 678.6 497.4 679.4 495.9 680.2 495.8 681 497.6 681.8 500.3 682.6 498.4 683.4 498 684.2 499.9 685 502.4 685.8 500.3 686.6 502.2 687.4 504.8 688.2 502.7 689 503.7 689.8 506.5 690.6 504.5 691.4 507.2 692.2 508.4 693 509.5 693.8 508.7 694.6 511.8 695.4 511.4 696.2 513.2 697 514.2 697.8 516.3 698.6 517.4 699.4 515.3 700.2 516.9 701 518.8 701.8 522.3 702.6 522.6 703.4 523.2 704.2 526.8 705 524.6 705.8 529.4 706.6 526.7 707.4 529.8 708.2 529 709 528.9 709.8 528.3 710.6 529.5 711.4 528.2 712.2 526.4 713 524.4 713.8 526.8 714.6 526.7 715.4 526.5 716.2 523.4 717 525.3 717.8 525.5 718.6 525 719.4 525.7 720.2 525.8 721 523.7 721.8 523.4 722.6 525.6 723.4 526.2 724.2 524 725 525.8 725.8 528.1 726.6 526.5 727.4 528.1 728.2 530.2 729 529 729.8 530.1 730.6 527.9 731.4 527.5 732.2 528.5 733 527.2 733.8 523.1 734.6 523.9 735.4 523.1 736.2 518.6 737 518 737.8 517.5 738.6 515 739.4 514.6 740.2 513.9 741 513.2 741.8 511.1 742.6 511 743.4 510.9 744.2 508.8 745 507.3 745.8 508 746.6 506.9 747.4 504.6 748.2 505.8 749 502.2 749.8 505 750.6 502 751.4 502.7 752.2 501.4 753 501.9 753.8 499.7 754.6 499.2 755.4 498.6 756.2 497.1 757 497.5 757.8 496.2 758.6 497.4 759.4 495.2 760.2 496.6 761 496.5 761.8 493.3 762.6 494.9 763.4 492.6 764.2 492.8 765 494.1 765.8 491.7 766.6 491 767.4 491.2 768.2 490.5 769 489.6 769.8 491.5 770.6 491.4 771.4 488.6 772.2 488.7 773 487.3 773.8 487.3 774.6 488.7 775.4 486.9 776.2 487 777 487.5 777.8 488.4 778.6 485.3 779.4 486.1 780.2 484.2 781 486.6 781.8 486.2 782.6 483.8 783.4 485.2 784.2 485 785 483.3 785.8 485 786.6 481.3 787.4 484.8 788.2 481.2 789 482.5 789.8 484 790.6 482.8 791.4 481.6 792.2 480.4 793 482.4 793.8 482.7 794.6 479.4 795.4 479.2 796.2 481.1 797 481.2 797.8 479.6 798.6 480 799.4 479.6 800.2 478.1 801 478.8 801.8 480 802.6 477.1 803.4 479.7 804.2 478 805 478.6 805.8 479.2 806.6 479 807.4 476.6 808.2 476.7 809 476.3 809.8 475.6 810.6 478.2 811.4 477 812.2 476.1 813 475.1 813.8 476.5 814.6 474.6 815.4 477 816.2 474 817 473.6 817.8 475.3 818.6 473.6 819.4 473.5 820.2 474.7 821 475.2 821.8 474.2 822.6 475.7 823.4 472.4 824.2 473.7 825 473.8 825.8 474.6 826.6 474.4 827.4 473.2 828.2 473.8 829 472.1 829.8 472.3 830.6 472 831.4 470.7 832.2 472.8 833 472.8 833.8 473.8 834.6 473.1 835.4 471.2 836.2 470.1 837 470 837.8 470.6 838.6 471.8 839.4 472.3 840.2 472.6 841 471.9 841.8 469.7 842.6 472.2 843.4 470.5 844.2 470.8 845 469.8 845.8 469.3 846.6 470.9 847.4 469.4 848.2 469.3 849 470.6 849.8 468.5 850.6 471.6 851.4 468.3 852.2 468.5 853 470.9 853.8 468.8 854.6 469.4 855.4 467.6 856.2 469.2 857 470.6 857.8 469.2 858.6 468.3 859.4 468.8 860.2 470.5 861 469.5 861.8 468.6 862.6 469.5 863.4 468.2 864.2 467.4 865 467.1 865.8 467.9 866.6 466.9 867.4 468.9 868.2 467 869 466.6 869.8 468.2 870.6 466.8 871.4 465.8 872.2 468.7 873 465.7 873.8 465.6 874.6 466.1 875.4 468.1 L875.4 494.2 874.6 495.7 873.8 495.4 873 494.9 872.2 495 871.4 494.3 870.6 494 869.8 492.7 869 493.3 868.2 496.4 867.4 493.7 866.6 492.5 865.8 496 865 494.9 864.2 494.2 863.4 493.8 862.6 493.5 861.8 497.1 861 493.8 860.2 495.8 859.4 493.4 858.6 496.9 857.8 493.2 857 494.3 856.2 496.3 855.4 494.2 854.6 496.4 853.8 494.3 853 493.9 852.2 497.5 851.4 496.8 850.6 494.8 849.8 496.1 849 497.3 848.2 493.9 847.4 495.8 846.6 496.9 845.8 498.7 845 499.1 844.2 497 843.4 496 842.6 495.9 841.8 499.1 841 496.2 840.2 496.4 839.4 497.4 838.6 498.7 837.8 499.4 837 498.8 836.2 497.1 835.4 495.8 834.6 497.7 833.8 498.9 833 498.4 832.2 499.9 831.4 496.8 830.6 499.4 829.8 497.7 829 498.7 828.2 500.1 827.4 498.8 826.6 500.7 825.8 501.7 825 499.8 824.2 498.5 823.4 501.7 822.6 499.5 821.8 498.7 821 498.8 820.2 501.8 819.4 503 818.6 500.8 817.8 503.3 817 499.9 816.2 500.1 815.4 502.8 814.6 504.3 813.8 502.3 813 501.7 812.2 501.8 811.4 504.8 810.6 503.5 809.8 504.6 809 501.9 808.2 505 807.4 502.6 806.6 506.2 805.8 502.3 805 506.3 804.2 503.7 803.4 503.5 802.6 506.8 801.8 506.3 801 504.8 800.2 506.4 799.4 505.9 798.6 504.5 797.8 507.5 797 508 796.2 504.8 795.4 507.1 794.6 509.2 793.8 509.1 793 509.1 792.2 506.7 791.4 509.4 790.6 509.9 789.8 507.8 789 510.1 788.2 507.7 787.4 507 786.6 509.2 785.8 508.7 785 511.5 784.2 510.9 783.4 511.2 782.6 512.5 781.8 512.1 781 512.1 780.2 509.5 779.4 511.5 778.6 512.2 777.8 513.1 777 514.2 776.2 512.3 775.4 511.7 774.6 514 773.8 515.4 773 515.3 772.2 513.9 771.4 514.9 770.6 516.4 769.8 517.7 769 517.4 768.2 519.1 767.4 516.2 766.6 519.3 765.8 518.4 765 519.9 764.2 518.8 763.4 517.3 762.6 521 761.8 522.2 761 518.7 760.2 520.5 759.4 524.5 758.6 520.5 757.8 522.8 757 523.4 756.2 523.6 755.4 527.2 754.6 527.7 753.8 523.8 753 528.3 752.2 526.6 751.4 528 750.6 526.4 749.8 527.1 749 528.6 748.2 529.5 747.4 532.8 746.6 530.1 745.8 534.5 745 532.9 744.2 537.3 743.4 537.9 742.6 538.6 741.8 540.3 741 539.3 740.2 541.7 739.4 540.9 738.6 541.3 737.8 543.3 737 544.6 736.2 546.4 735.4 547.3 734.6 551.7 733.8 550.2 733 551.9 732.2 552 731.4 556.5 730.6 555.6 729.8 553.6 729 557.1 728.2 555.2 727.4 556.5 726.6 551.5 725.8 553 725 553.1 724.2 550 723.4 552.8 722.6 553 721.8 549.3 721 552.9 720.2 551.9 719.4 553 718.6 552.2 717.8 552 717 552.6 716.2 550.2 715.4 551.5 714.6 554.1 713.8 553.3 713 551.6 712.2 552.2 711.4 555.4 710.6 551.6 709.8 553.4 709 553.5 708.2 556.7 707.4 556.4 706.6 552.6 705.8 556.1 705 554.2 704.2 553.3 703.4 549.6 702.6 548.2 701.8 548.7 701 546.3 700.2 546.8 699.4 542.7 698.6 539.7 697.8 539.4 697 537.9 696.2 537.6 695.4 539 694.6 538.1 693.8 537 693 536.2 692.2 531.6 691.4 532.1 690.6 533.4 689.8 529.9 689 532.3 688.2 531.1 687.4 527.8 686.6 529.9 685.8 527.5 685 527.3 684.2 525.2 683.4 527.8 682.6 526.1 681.8 522.8 681 525.7 680.2 521.9 679.4 524.2 678.6 520.8 677.8 524.3 677 521.3 676.2 519.8 675.4 519.6 674.6 520.6 673.8 517.9 673 521 672.2 521.1 671.4 520.4 670.6 519 669.8 516.2 669 519.6 668.2 517.7 667.4 517.8 666.6 518.4 665.8 514.4 665 513.6 664.2 514.6 663.4 515.7 662.6 513.6 661.8 512.9 661 512.8 660.2 515.4 659.4 512.8 658.6 512.6 657.8 511.9 657 512.4 656.2 510.9 655.4 511.9 654.6 512.3 653.8 512.8 653 510.5 652.2 512.9 651.4 512.7 650.6 511.9 649.8 511.4 649 510.2 648.2 507.9 647.4 510.4 646.6 510.1 645.8 509.3 645 507.7 644.2 507.7 643.4 509.6 642.6 509.2 641.8 505.6 641 507.2 640.2 506.5 639.4 508.2 638.6 505.2 637.8 506.3 637 508.2 636.2 505.7 635.4 505.4 634.6 508 633.8 507.1 633 506.7 632.2 503.6 631.4 503.1 630.6 506.4 629.8 507 629 506.7 628.2 501.9 627.4 505.2 626.6 502.4 625.8 501.5 625 503.9 624.2 501.9 623.4 502.2 622.6 500.9 621.8 505.1 621 502.1 620.2 504.3 619.4 501.7 618.6 500.1 617.8 504.8 617 503.3 616.2 500.2 615.4 501.5 614.6 500.6 613.8 500.3 613 501.6 612.2 500.7 611.4 499.7 610.6 503.4 609.8 502.5 609 503.5 608.2 501 607.4 501.1 606.6 502.1 605.8 499.8 605 502.6 604.2 500.8 603.4 499.2 602.6 498.7 601.8 499.6 601 502.3 600.2 499 599.4 502 598.6 502.1 597.8 500.1 597 500.9 596.2 499.5 595.4 500.5 594.6 501 593.8 497.5 593 501.7 592.2 500.7 591.4 497.2 590.6 498.2 589.8 501.1 589 497.8 588.2 500.8 587.4 500.7 586.6 500.5 585.8 499 585 498.2 584.2 501 583.4 498.6 582.6 496.5 581.8 496.3 581 500.7 580.2 499.1 579.4 498.9 578.6 496.5 577.8 498.5 577 497 576.2 498.5 575.4 500.2 574.6 497.8 573.8 496 573 500.2 572.2 496.4 571.4 500.4 570.6 496.3 569.8 497.8 569 500.3 568.2 497.8 567.4 498.8 566.6 500.5 565.8 499.8 565 500.3 564.2 499.2 563.4 496.6 562.6 498.5Z" fill="#ff1a1a" stroke="none"/>
<path d="M562.6 464.9L562.6 530.6L563.4 501.1L563.4 471.4L564.2 470.5L564.2 509.8L565 509.7L565 466.6L565.8 468.6L565.8 505.9L566.6 495L566.6 470.1L567.4 468.1L567.4 501.7L568.2 495.1L568.2 470.2L569 469.7L569 508.5L569.8 513.5L569.8 468.3L570.6 471.4L570.6 520.2L571.4 494.3L571.4 465.9L572.2 471.3L572.2 497.8L573 496.6L573 466.5L573.8 467.7L573.8 498L574.6 508.7L574.6 471L575.4 470.3L575.4 501.5L576.2 497.5L576.2 470.3L577 468.7L577 494.8L577.8 496.8L577.8 470.6L578.6 471.2L578.6 500.2L579.4 508L579.4 470.6L580.2 470.6L580.2 495.2L581 496.7L581 468.6L581.8 471.3L581.8 500.8L582.6 501.4L582.6 469.6L583.4 469.9L583.4 505.9L584.2 503.9L584.2 470.8L585 469.8L585 495.3L585.8 502.3L585.8 473L586.6 471L586.6 527.3L587.4 514.1L587.4 470.5L588.2 471.5L588.2 505.5L589 508.5L589 471L589.8 471.8L589.8 499L590.6 502.5L590.6 469.9L591.4 471.5L591.4 500.7L592.2 499.1L592.2 470.2L593 473.4L593 500.1L593.8 512.7L593.8 472.6L594.6 471.6L594.6 504.9L595.4 495.9L595.4 469.1L596.2 472.5L596.2 501.2L597 532.2L597 473.6L597.8 472.3L597.8 503.6L598.6 497.7L598.6 471.9L599.4 471.5L599.4 497.6L600.2 500.7L600.2 472.4L601 473.7L601 497.8L601.8 496.6L601.8 472.9L602.6 471.6L602.6 510.8L603.4 512L603.4 472.9L604.2 472.5L604.2 509.9L605 499.5L605 472.4L605.8 474.9L605.8 508.9L606.6 498L606.6 471.1L607.4 468.7L607.4 497.7L608.2 532.3L608.2 474L609 474.7L609 498.3L609.8 503.7L609.8 472.6L610.6 473.5L610.6 498.3L611.4 512.3L611.4 474.2L612.2 474.2L612.2 501.1L613 507.7L613 472.7L613.8 473.2L613.8 498.3L614.6 502.1L614.6 473.7L615.4 474.7L615.4 499.5L616.2 502L616.2 472.2L617 471.5L617 504.1L617.8 523.5L617.8 470.9L618.6 476.1L618.6 500L619.4 500.4L619.4 476.5L620.2 473.3L620.2 505.9L621 515.5L621 476.9L621.8 473.8L621.8 501.2L622.6 506.4L622.6 475.9L623.4 473.9L623.4 514L624.2 508.4L624.2 475.3L625 474.6L625 513.2L625.8 502.7L625.8 474.3L626.6 475L626.6 507L627.4 517.5L627.4 476.2L628.2 473L628.2 500.7L629 536.9L629 478.8L629.8 478.5L629.8 502.2L630.6 516.3L630.6 476.9L631.4 476.8L631.4 503.5L632.2 501.1L632.2 475.7L633 476.6L633 513.8L633.8 511.5L633.8 477L634.6 474.2L634.6 503.9L635.4 506.7L635.4 476.7L636.2 479L636.2 524.8L637 509L637 478.8L637.8 479L637.8 505.9L638.6 522.7L638.6 477.5L639.4 479.1L639.4 513.6L640.2 527.7L640.2 480.5L641 477L641 531.1L641.8 505.8L641.8 479.8L642.6 480L642.6 507.2L643.4 505.5L643.4 478.7L644.2 481.1L644.2 511.4L645 505.1L645 481L645.8 475.5L645.8 510.7L646.6 511.3L646.6 481.3L647.4 483.2L647.4 508.3L648.2 516.9L648.2 480.8L649 480.7L649 516L649.8 526.9L649.8 483L650.6 481.1L650.6 525.6L651.4 514.1L651.4 480.9L652.2 482.2L652.2 510.5L653 543.3L653 485.1L653.8 485.6L653.8 510.4L654.6 520.7L654.6 483.7L655.4 479.7L655.4 510.9L656.2 511.8L656.2 484.1L657 485.4L657 533.7L657.8 511L657.8 485.5L658.6 482.3L658.6 536.1L659.4 511.5L659.4 479.8L660.2 484.4L660.2 528.5L661 530.5L661 485.1L661.8 486.4L661.8 521.7L662.6 518.5L662.6 482.7L663.4 486.7L663.4 514.1L664.2 515.4L664.2 487.3L665 487.5L665 513L665.8 513.1L665.8 484.6L666.6 485.6L666.6 528.5L667.4 549L667.4 489L668.2 485L668.2 516L669 516.4L669 490.4L669.8 487.9L669.8 526.1L670.6 518.5L670.6 491L671.4 491.2L671.4 524.9L672.2 526.4L672.2 491.4L673 491L673 546.3L673.8 516.5L673.8 489.9L674.6 493.2L674.6 547.7L675.4 526.4L675.4 491.9L676.2 492.6L676.2 532.4L677 544.9L677 491.8L677.8 492.8L677.8 519L678.6 526.4L678.6 494.8L679.4 496.8L679.4 550.4L680.2 533.7L680.2 494.5L681 496.9L681 522.2L681.8 534.2L681.8 497.9L682.6 494.7L682.6 530L683.4 538.7L683.4 494.9L684.2 500.6L684.2 539L685 534.1L685 500.8L685.8 498.9L685.8 544.9L686.6 529.7L686.6 500.6L687.4 501.1L687.4 527.6L688.2 537.6L688.2 502.6L689 497L689 542L689.8 539.9L689.8 501.1L690.6 503.5L690.6 553.5L691.4 536.2L691.4 504.5L692.2 505.4L692.2 531.7L693 533.7L693 505.6L693.8 508.3L693.8 532.4L694.6 534.1L694.6 509.1L695.4 511.9L695.4 544.4L696.2 563.3L696.2 509.7L697 511.3L697 554.8L697.8 561L697.8 513.1L698.6 513.6L698.6 555.2L699.4 546.4L699.4 517.6L700.2 515.9L700.2 545.6L701 544.9L701 518.4L701.8 518.5L701.8 551.8L702.6 558.4L702.6 519.9L703.4 524L703.4 549.2L704.2 548L704.2 525.3L705 525.8L705 555.8L705.8 586.4L705.8 523.6L706.6 527.7L706.6 550.9L707.4 552.6L707.4 525.9L708.2 527L708.2 551.4L709 552.7L709 526.1L709.8 523.1L709.8 552.7L710.6 580L710.6 525.2L711.4 525.2L711.4 549.7L712.2 548.9L712.2 523.8L713 524.8L713 559.4L713.8 584.4L713.8 523.1L714.6 522.8L714.6 563.7L715.4 551.4L715.4 521.9L716.2 523.3L716.2 582.8L717 564.3L717 522.3L717.8 521.6L717.8 555.8L718.6 557.7L718.6 519.8L719.4 522.9L719.4 552.7L720.2 548.8L720.2 523.9L721 521.1L721 557.6L721.8 551.1L721.8 520.6L722.6 520.2L722.6 549.7L723.4 573.3L723.4 520.2L724.2 522.2L724.2 549.7L725 558L725 523.9L725.8 522.3L725.8 559.3L726.6 585.4L726.6 525L727.4 524.6L727.4 551.6L728.2 570.2L728.2 524.7L729 527.2L729 564.5L729.8 554.3L729.8 526.5L730.6 525.2L730.6 555.9L731.4 555.8L731.4 523.2L732.2 525.1L732.2 582.4L733 551.3L733 522.1L733.8 522.1L733.8 546.7L734.6 567.3L734.6 521.1L735.4 514.8L735.4 545.1L736.2 553.2L736.2 520L737 518.6L737 544.5L737.8 545.1L737.8 513.3L738.6 514.2L738.6 555L739.4 573.7L739.4 514.4L740.2 511.4L740.2 568.9L741 536.9L741 512.5L741.8 506L741.8 537.8L742.6 569.4L742.6 507.9L743.4 505.5L743.4 550.6L744.2 532.9L744.2 506.6L745 505.2L745 533.8L745.8 535.2L745.8 505L746.6 505L746.6 534.8L747.4 533.5L747.4 504.8L748.2 501.9L748.2 528.8L749 526.6L749 499.9L749.8 499L749.8 530.6L750.6 534.6L750.6 500.4L751.4 499.3L751.4 545.7L752.2 532.9L752.2 497.4L753 498.4L753 525.2L753.8 523.2L753.8 497.6L754.6 496.6L754.6 522.4L755.4 552.8L755.4 495.1L756.2 495.6L756.2 523.4L757 547.4L757 492.8L757.8 495.8L757.8 543.9L758.6 520.3L758.6 495.6L759.4 493.7L759.4 520L760.2 529.8L760.2 492.7L761 492.9L761 529.8L761.8 516.8L761.8 493.6L762.6 488.3L762.6 522.2L763.4 519.6L763.4 489.6L764.2 492.9L764.2 530.3L765 531.9L765 489.5L765.8 490L765.8 516.9L766.6 519.3L766.6 488.8L767.4 490.1L767.4 516.4L768.2 514L768.2 488.7L769 483.4L769 532.3L769.8 518.5L769.8 486.7L770.6 485.9L770.6 527.5L771.4 516.4L771.4 485.2L772.2 487.7L772.2 547.7L773 547.3L773 487.1L773.8 484.8L773.8 512.6L774.6 538L774.6 485.7L775.4 485.7L775.4 525.8L776.2 526.1L776.2 486.3L777 483.6L777 515.1L777.8 529.3L777.8 486.7L778.6 484.1L778.6 544.9L779.4 544.6L779.4 484.2L780.2 482.6L780.2 512.2L781 526L781 482.8L781.8 484.7L781.8 511.7L782.6 518.4L782.6 482.4L783.4 484L783.4 509.2L784.2 515.9L784.2 482.6L785 481.4L785 514.6L785.8 511.8L785.8 478.1L786.6 479.2L786.6 510.2L787.4 511.9L787.4 483.8L788.2 481.5L788.2 516L789 514.8L789 481.8L789.8 479.2L789.8 531L790.6 535.9L790.6 478.6L791.4 481.1L791.4 514L792.2 510.1L792.2 478.7L793 480.1L793 504.2L793.8 511L793.8 479.3L794.6 479.1L794.6 503.6L795.4 507.6L795.4 477.8L796.2 480.3L796.2 519.4L797 516.4L797 477.9L797.8 476.2L797.8 513.2L798.6 504.7L798.6 476.1L799.4 478L799.4 508.1L800.2 505.2L800.2 474.1L801 477.4L801 505.8L801.8 501.4L801.8 478L802.6 476L802.6 505.7L803.4 501.8L803.4 476L804.2 471.3L804.2 525.2L805 532.5L805 479.2L805.8 475.9L805.8 517.1L806.6 507.5L806.6 476.9L807.4 471.7L807.4 508L808.2 521.3L808.2 477L809 474.3L809 535.6L809.8 502L809.8 476.2L810.6 475.5L810.6 506.4L811.4 532L811.4 474.6L812.2 477.6L812.2 510.7L813 500.5L813 474.5L813.8 471.3L813.8 503.6L814.6 503.5L814.6 472.4L815.4 472.5L815.4 511.8L816.2 509.4L816.2 470.6L817 473.1L817 519L817.8 501.1L817.8 473.9L818.6 469.7L818.6 533.6L819.4 498.6L819.4 474L820.2 471.9L820.2 501.2L821 507.2L821 472.3L821.8 469.4L821.8 498.6L822.6 500.5L822.6 469.9L823.4 470.8L823.4 514.1L824.2 501.4L824.2 470.3L825 473.3L825 498.3L825.8 501.9L825.8 469.9L826.6 467.9L826.6 498.9L827.4 495.5L827.4 471.9L828.2 473.5L828.2 508.2L829 496.5L829 470L829.8 470.8L829.8 499.1L830.6 497.4L830.6 469.9L831.4 470.7L831.4 518.9L832.2 515.2L832.2 469.9L833 469.9L833 511.7L833.8 496.1L833.8 472.3L834.6 469.8L834.6 499.8L835.4 500.4L835.4 470.1L836.2 470.6L836.2 505.2L837 503.9L837 467.2L837.8 466.8L837.8 508.6L838.6 510.3L838.6 469.8L839.4 465.4L839.4 499.6L840.2 496.8L840.2 466.7L841 469.7L841 499.3L841.8 506.4L841.8 464.4L842.6 469.3L842.6 510.1L843.4 495.3L843.4 466.7L844.2 467.6L844.2 498.9L845 507L845 466.9L845.8 468.8L845.8 529.1L846.6 499.4L846.6 468.7L847.4 469.4L847.4 528.9L848.2 528.8L848.2 469.7L849 467.9L849 495.7L849.8 500.3L849.8 466.7L850.6 467.4L850.6 505L851.4 495.6L851.4 468.3L852.2 468.6L852.2 493L853 505.4L853 468.5L853.8 467.9L853.8 513.3L854.6 509.8L854.6 466.8L855.4 466.1L855.4 493.2L856.2 492.6L856.2 470.4L857 466.9L857 509.3L857.8 498.2L857.8 466.5L858.6 466.5L858.6 498.5L859.4 508.9L859.4 465.3L860.2 469L860.2 492.6L861 493.9L861 467.4L861.8 464.8L861.8 510.7L862.6 494L862.6 466L863.4 466.3L863.4 492L864.2 512.8L864.2 463.6L865 465.1L865 516.4L865.8 499.2L865.8 463.6L866.6 462.6L866.6 510.5L867.4 496.3L867.4 465L868.2 465L868.2 510.6L869 492.3L869 463.3L869.8 465.2L869.8 512.5L870.6 526.2L870.6 461.9L871.4 464.5L871.4 526.1L872.2 505L872.2 466.3L873 464.3L873 493.5L873.8 491.2L873.8 464L874.6 463.6L874.6 494.7L875.4 493L875.4 464.8" stroke="#ff1a1a" stroke-width="0.6" fill="none" stroke-linejoin="bevel"/>
<path d="M708.3 484.1V532.7M721.7 480V532.7M843.3 500.3V557.1" stroke="#ff5050" stroke-width="0.9" fill="none"/>
<path d="M562.2 473.1 563 471 563.8 472.8 564.6 471 565.4 471.1 566.2 474.7 567 474 567.8 471.4 568.6 472.9 569.4 471.6 570.2 473.5 571 471.4 571.8 471.2 572.6 473.8 573.4 472.5 574.2 471.9 575 471.4 575.8 474.1 576.6 472.5 577.4 472.9 578.2 475 579 471.7 579.8 474.4 580.6 474.7 581.4 475.2 582.2 473.9 583 472.6 583.8 474.3 584.6 472.1 585.4 474 586.2 473.6 587 472.4 587.8 473.8 588.6 472.9 589.4 472.9 590.2 474.7 591 475.3 591.8 472.3 592.6 473.3 593.4 474.2 594.2 474.1 595 475.6 595.8 475.9 596.6 473.9 597.4 476.2 598.2 474.4 599 474.4 599.8 475.8 600.6 476.6 601.4 473.3 602.2 473.9 603 475.5 603.8 476.4 604.6 474.2 605.4 476.5 606.2 474 607 477.4 607.8 475.9 608.6 475.9 609.4 476.7 610.2 476.5 611 476.5 611.8 476.4 612.6 476.1 613.4 478.4 614.2 476.9 615 478.3 615.8 477.1 616.6 475.7 617.4 475.3 618.2 477.8 619 477.9 619.8 477.3 620.6 476.2 621.4 476 622.2 476.4 623 478.2 623.8 477.1 624.6 477.3 625.4 477.8 626.2 478 627 477.4 627.8 480.5 628.6 480.6 629.4 479 630.2 478.3 631 480.4 631.8 478.3 632.6 481 633.4 480.3 634.2 478.7 635 481.5 635.8 480.2 636.6 481.6 637.4 480.4 638.2 481.2 639 481.8 639.8 480.8 640.6 480 641.4 481 642.2 480.7 643 483.8 643.8 481.6 644.6 483.4 645.4 484.5 646.2 484.5 647 483.6 647.8 485.1 648.6 485.6 649.4 485.5 650.2 483.5 651 483.3 651.8 483.4 652.6 486 653.4 485.3 654.2 487.2 655 485.2 655.8 488 656.6 485.5 657.4 486.3 658.2 486.3 659 488.3 659.8 486.5 660.6 489.7 661.4 487.9 662.2 487.6 663 490.2 663.8 491.4 664.6 488.9 665.4 491.1 666.2 490.6 667 491.8 667.8 490.8 668.6 492.1 669.4 492.9 670.2 491.2 671 494.8 671.8 493.6 672.6 494.2 673.4 495.5 674.2 493.2 675 495.6 675.8 495.9 676.6 497 677.4 495.8 678.2 498.6 679 499.4 679.8 497.7 680.6 500.2 681.4 499.8 682.2 500.4 683 500.8 683.8 499.7 684.6 500.5 685.4 504.1 686.2 504.9 687 503.3 687.8 504.4 688.6 505.8 689.4 507.2 690.2 507.1 691 508.5 691.8 509.8 692.6 509.8 693.4 509.4 694.2 511.8 695 513.6 695.8 512.1 696.6 513.3 697.4 513.6 698.2 517.8 699 518.7 699.8 520.9 700.6 519.1 701.4 521.9 702.2 523.9 703 527.3 703.8 525.5 704.6 527.4 705.4 532.6 706.2 532.9 707 532.5 707.8 532.7 708.6 532.2 709.4 531 710.2 532.1 711 530.8 711.8 529.3 712.6 530 713.4 527.9 714.2 527.2 715 528.5 715.8 526.9 716.6 527.9 717.4 526.9 718.2 526.3 719 527.6 719.8 526.8 720.6 527.1 721.4 526.7 722.2 529.3 723 528.2 723.8 527.1 724.6 529.8 725.4 528.9 726.2 532.4 727 532.4 727.8 534 728.6 532 729.4 534 730.2 534.3 731 533 731.8 533.1 732.6 528 733.4 528.4 734.2 526.8 735 526.3 735.8 521.5 736.6 522.2 737.4 518.2 738.2 517.5 739 515.4 739.8 515.1 740.6 516 741.4 514.2 742.2 511.2 743 510.7 743.8 509.6 744.6 511.6 745.4 510.1 746.2 508.5 747 505.2 747.8 504.9 748.6 506.9 749.4 506.1 750.2 503.3 751 502 751.8 504.2 752.6 502.7 753.4 501.6 754.2 499.1 755 498.8 755.8 501.4 756.6 499.6 757.4 499.6 758.2 498.1 759 497 759.8 495.6 760.6 497.3 761.4 494.7 762.2 495.1 763 493.2 763.8 493.5 764.6 494.4 765.4 493.5 766.2 492.4 767 493.9 767.8 494.2 768.6 491.6 769.4 492.5 770.2 491.3 771 490.8 771.8 489 772.6 490.7 773.4 489.3 774.2 491 775 488.8 775.8 490.4 776.6 488.9 777.4 489.8 778.2 487.9 779 487.7 779.8 488.5 780.6 487.4 781.4 486.7 782.2 485.8 783 485.6 783.8 485.7 784.6 484.1 785.4 486.6 786.2 485.7 787 486.5 787.8 484.8 788.6 483.2 789.4 484.7 790.2 484 791 485.4 791.8 483.4 792.6 483.8 793.4 484.7 794.2 480.9 795 483 795.8 481.6 796.6 483.1 797.4 483.6 798.2 481.6 799 482.5 799.8 482.5 800.6 482.7 801.4 479.7 802.2 479.2 803 479.4 803.8 482 804.6 481.2 805.4 478.4 806.2 478.9 807 481.2 807.8 478.4 808.6 477.5 809.4 479.5 810.2 479.5 811 479.9 811.8 479.9 812.6 478.3 813.4 479.6 814.2 477.6 815 476.4 815.8 478.9 816.6 476.7 817.4 475.9 818.2 479.1 819 476.5 819.8 476.8 820.6 475.3 821.4 475.3 822.2 476.3 823 477 823.8 477 824.6 474.9 825.4 475.1 826.2 475.2 827 477.8 827.8 475 828.6 476.6 829.4 477.1 830.2 475.8 831 475.5 831.8 473.8 832.6 473.8 833.4 476 834.2 476.3 835 476.4 835.8 476.2 836.6 476.3 837.4 476 838.2 474 839 472.9 839.8 475.6 840.6 476.1 841.4 475.3 842.2 476 843 475.7 843.8 472.3 844.6 475.4 845.4 474.9 846.2 472.5 847 473.3 847.8 475.3 848.6 473.9 849.4 472 850.2 475.6 851 472.1 851.8 472 852.6 471.8 853.4 474.6 854.2 471.8 855 472.8 855.8 474.5 856.6 473 857.4 471.4 858.2 474.5 859 472.5 859.8 472.8 860.6 473 861.4 471.7 862.2 472.9 863 474.2 863.8 473.5 864.6 472.8 865.4 473.7 866.2 471.1 867 471.2 867.8 473.8 868.6 472.1 869.4 473.1 870.2 472.5 871 471 871.8 474.8 872.6 473.9 873.4 471.8 874.2 474.6 875 474.7 L875 500.4 874.2 499 873.4 501.1 872.6 501.4 871.8 499.7 871 498.8 870.2 496.8 869.4 500.7 868.6 497.8 867.8 499.4 867 497.9 866.2 497.1 865.4 497.4 864.6 500.1 863.8 498.7 863 498.6 862.2 500.7 861.4 497.7 860.6 500.8 859.8 498.1 859 497.9 858.2 497.3 857.4 499.3 856.6 501.7 855.8 498.5 855 500.3 854.2 500.8 853.4 497.4 852.6 498.8 851.8 501.9 851 498.7 850.2 497.9 849.4 499.6 848.6 500.9 847.8 501.3 847 501.7 846.2 500.3 845.4 499.8 844.6 501.1 843.8 499.2 843 499.2 842.2 501.8 841.4 502.2 840.6 499.9 839.8 502.8 839 502.5 838.2 498.9 837.4 502.9 836.6 499.9 835.8 500.3 835 498.9 834.2 503.8 833.4 501.7 832.6 503.6 831.8 504.1 831 500.1 830.2 500.9 829.4 500 828.6 501.4 827.8 503.2 827 502.5 826.2 500.8 825.4 500.6 824.6 502.1 823.8 503.2 823 501.6 822.2 502.3 821.4 504.1 820.6 503.5 819.8 501.4 819 505.3 818.2 504.4 817.4 503.1 816.6 501.6 815.8 505.3 815 504.5 814.2 506.7 813.4 506.1 812.6 507 811.8 504 811 506.7 810.2 504.2 809.4 506.6 808.6 506.4 807.8 507.1 807 508 806.2 506.4 805.4 505.1 804.6 507.3 803.8 508.3 803 507.5 802.2 505.5 801.4 506.6 800.6 505.2 799.8 505.4 799 507.2 798.2 509.8 797.4 506 796.6 508.7 795.8 508.3 795 508 794.2 510.3 793.4 509.4 792.6 509.1 791.8 511.5 791 510.9 790.2 510.1 789.4 511.4 788.6 510.4 787.8 511.4 787 512.5 786.2 512.8 785.4 513.7 784.6 514 783.8 510.2 783 511.3 782.2 514.8 781.4 510.6 780.6 512.3 779.8 513.3 779 516 778.2 513.1 777.4 514.4 776.6 517.2 775.8 515.5 775 515 774.2 517.2 773.4 516.9 772.6 514.6 771.8 515 771 517.5 770.2 518.7 769.4 519.1 768.6 517.4 767.8 520 767 519.6 766.2 521.2 765.4 519.7 764.6 519.3 763.8 522.4 763 521.9 762.2 520.1 761.4 521.9 760.6 522.3 759.8 525.2 759 522.7 758.2 526.1 757.4 524.7 756.6 523.6 755.8 526.7 755 527.7 754.2 525.3 753.4 529.2 752.6 526.9 751.8 526.7 751 531.6 750.2 531.6 749.4 533.1 748.6 532.6 747.8 533.7 747 535.2 746.2 535.6 745.4 535.3 744.6 533.6 743.8 535.2 743 538.8 742.2 539.7 741.4 541.1 740.6 539.8 739.8 540 739 545.7 738.2 544.2 737.4 545.1 736.6 546.1 735.8 548 735 550.4 734.2 552 733.4 552.1 732.6 555.2 731.8 558.4 731 558.8 730.2 558.6 729.4 561.7 728.6 560.2 727.8 558.9 727 555.9 726.2 557.1 725.4 555.2 724.6 554.9 723.8 557.2 723 552.9 722.2 553.1 721.4 552.2 720.6 553.1 719.8 553.3 719 553.5 718.2 553.6 717.4 552.1 716.6 555.6 715.8 556.3 715 553.1 714.2 555.5 713.4 553 712.6 556.6 711.8 556.7 711 555 710.2 560.2 709.4 560.2 708.6 557.7 707.8 561 707 561.7 706.2 560.2 705.4 557.1 704.6 553 703.8 551.1 703 553.5 702.2 552.5 701.4 550 700.6 545.1 699.8 543.8 699 542.2 698.2 541 697.4 539.7 696.6 538.8 695.8 539.6 695 536.3 694.2 537.6 693.4 534.9 692.6 535.8 691.8 533.3 691 531.7 690.2 534.8 689.4 529.9 688.6 533.1 687.8 532.3 687 531.9 686.2 529.6 685.4 530.1 684.6 526.8 683.8 528.7 683 525 682.2 527.8 681.4 527.2 680.6 523.1 679.8 526.4 679 523.5 678.2 524.7 677.4 521.4 676.6 523.6 675.8 520 675 523.7 674.2 519.7 673.4 520 672.6 521.7 671.8 522 671 517.8 670.2 520.5 669.4 516.4 668.6 516 667.8 519.1 667 515.4 666.2 515.7 665.4 516.6 664.6 516.2 663.8 517.3 663 516.3 662.2 514.8 661.4 513.2 660.6 516.7 659.8 516.3 659 515.1 658.2 515.8 657.4 513.5 656.6 511.7 655.8 514.2 655 512.4 654.2 514.1 653.4 513.1 652.6 511.1 651.8 509.6 651 509.1 650.2 513 649.4 510.7 648.6 510.5 647.8 509.7 647 507.7 646.2 509.8 645.4 511.6 644.6 511.6 643.8 511.2 643 507.4 642.2 510.8 641.4 510.6 640.6 510 639.8 508.2 639 507.7 638.2 509.6 637.4 507.8 636.6 506.8 635.8 506.6 635 504.7 634.2 505.6 633.4 505.9 632.6 504.4 631.8 503.8 631 505.4 630.2 504.3 629.4 505.9 628.6 507.7 627.8 503.9 627 503.6 626.2 504.1 625.4 506.9 624.6 506.6 623.8 506.4 623 504.2 622.2 506.3 621.4 506.3 620.6 502 619.8 505.1 619 505.9 618.2 501.7 617.4 503.8 616.6 501.1 615.8 503.1 615 501.3 614.2 502.8 613.4 504.4 612.6 504.3 611.8 502 611 501.2 610.2 500.9 609.4 502.1 608.6 503.7 607.8 502.9 607 501.1 606.2 500.6 605.4 503.5 604.6 502.9 603.8 500.9 603 503 602.2 500.3 601.4 500.5 600.6 502.2 599.8 498.9 599 498.9 598.2 501.5 597.4 501 596.6 500.3 595.8 500.1 595 502.4 594.2 500.4 593.4 501.5 592.6 501.9 591.8 502.5 591 498.6 590.2 498.3 589.4 500 588.6 501 587.8 500.9 587 499.7 586.2 501.2 585.4 499 584.6 500.5 583.8 497.4 583 501.6 582.2 498 581.4 498.3 580.6 500.6 579.8 498.7 579 497.9 578.2 498.8 577.4 497.4 576.6 498.5 575.8 500.2 575 497.8 574.2 497.8 573.4 497.8 572.6 497.9 571.8 497.9 571 501.3 570.2 499.6 569.4 498.1 568.6 501.4 567.8 497.8 567 498.7 566.2 498.8 565.4 501.2 564.6 499.1 563.8 497.5 563 501 562.2 499.8Z" fill="#000" stroke="none"/>
<path d="M562.2 468.7L562.2 514.6L563 496.8L563 468.3L563.8 470.9L563.8 516.1L564.6 503.5L564.6 472.8L565.4 472.1L565.4 509.1L566.2 495.9L566.2 470.1L567 470.8L567 497.4L567.8 496.2L567.8 469L568.6 470.7L568.6 503.5L569.4 507.9L569.4 468.6L570.2 470.3L570.2 531.7L571 515.5L571 468.5L571.8 471.8L571.8 501.1L572.6 501.2L572.6 468L573.4 471.8L573.4 505.9L574.2 495.3L574.2 468.5L575 472.4L575 502L575.8 498.1L575.8 470.3L576.6 469.6L576.6 521.3L577.4 505.7L577.4 468L578.2 469.7L578.2 508.4L579 504.9L579 470.8L579.8 469L579.8 513.7L580.6 496.3L580.6 471.2L581.4 470.4L581.4 500.7L582.2 499.6L582.2 472.6L583 470.2L583 500.5L583.8 504.8L583.8 471L584.6 470.3L584.6 503.7L585.4 500.9L585.4 467L586.2 471.2L586.2 501.2L587 503.4L587 469.7L587.8 471.5L587.8 502.9L588.6 496.5L588.6 470.6L589.4 473.1L589.4 504.3L590.2 511.9L590.2 473.1L591 473.4L591 496.4L591.8 515.7L591.8 473.8L592.6 473.4L592.6 503.9L593.4 496.5L593.4 470.7L594.2 473.3L594.2 503.7L595 506.1L595 471.4L595.8 473.5L595.8 505.7L596.6 504.6L596.6 470.6L597.4 469.9L597.4 502.8L598.2 513.1L598.2 471.4L599 470.8L599 504.1L599.8 533.5L599.8 473.8L600.6 474.6L600.6 530.1L601.4 523.4L601.4 474.7L602.2 474.7L602.2 509.5L603 500L603 473.4L603.8 469.8L603.8 500.6L604.6 497.6L604.6 470.6L605.4 470.6L605.4 502.2L606.2 500.4L606.2 474.7L607 473L607 521.8L607.8 514.1L607.8 470.1L608.6 476.5L608.6 506.8L609.4 510.1L609.4 476.7L610.2 474.2L610.2 499.3L611 534.8L611 476.1L611.8 474.6L611.8 511.4L612.6 510.6L612.6 474.2L613.4 470.9L613.4 503.1L614.2 519.3L614.2 476.7L615 474.4L615 500.1L615.8 505.9L615.8 473.9L616.6 474.1L616.6 501.6L617.4 504.3L617.4 475.1L618.2 474.7L618.2 515.7L619 502L619 476.5L619.8 473.9L619.8 502L620.6 521L620.6 476.1L621.4 475.8L621.4 523.1L622.2 502.8L622.2 476.4L623 476.2L623 504.1L623.8 515.7L623.8 477.1L624.6 477.5L624.6 503.5L625.4 506.9L625.4 475L626.2 476.2L626.2 508.6L627 508.2L627 477.6L627.8 472.8L627.8 505L628.6 513.7L628.6 476.8L629.4 475L629.4 514.9L630.2 502.6L630.2 475.2L631 478.4L631 515.7L631.8 506.3L631.8 477.6L632.6 477.4L632.6 504.7L633.4 502.7L633.4 478.4L634.2 479.5L634.2 512.6L635 509L635 479.4L635.8 478.6L635.8 506.4L636.6 528.1L636.6 479.3L637.4 480.5L637.4 503.6L638.2 512.1L638.2 480.3L639 479.4L639 512.1L639.8 506.1L639.8 478.1L640.6 477.5L640.6 539.3L641.4 515.5L641.4 476.6L642.2 478.9L642.2 511.3L643 513.4L643 479.2L643.8 479.6L643.8 541.4L644.6 517.7L644.6 482.8L645.4 479.1L645.4 522.8L646.2 517L646.2 481.3L647 481.9L647 530.9L647.8 522.7L647.8 479.2L648.6 482.8L648.6 517.7L649.4 513.3L649.4 481.2L650.2 484.8L650.2 510.1L651 507.8L651 484.3L651.8 483.4L651.8 511L652.6 507.9L652.6 485.8L653.4 486.7L653.4 544.4L654.2 513.8L654.2 484.9L655 482.5L655 511.8L655.8 516.9L655.8 480.4L656.6 482.1L656.6 514L657.4 512.5L657.4 485.2L658.2 483.9L658.2 535.9L659 520.5L659 487.4L659.8 484.8L659.8 513.1L660.6 540.5L660.6 485.8L661.4 485.5L661.4 513.8L662.2 519.5L662.2 486.8L663 489L663 513.3L663.8 515L663.8 488.2L664.6 488.1L664.6 519L665.4 516.6L665.4 489.7L666.2 487.8L666.2 514.1L667 513.5L667 489.1L667.8 488.6L667.8 528.9L668.6 527.7L668.6 493.3L669.4 489.9L669.4 525.7L670.2 517.2L670.2 489.2L671 489L671 518.5L671.8 536.1L671.8 491.1L672.6 492.6L672.6 518.7L673.4 525L673.4 488.3L674.2 494.7L674.2 525.4L675 520L675 493.7L675.8 492.2L675.8 526.5L676.6 521.2L676.6 494.4L677.4 495L677.4 523.4L678.2 527.5L678.2 494.4L679 494.9L679 524L679.8 536.7L679.8 495.3L680.6 497.1L680.6 547.1L681.4 523.6L681.4 499.6L682.2 495.9L682.2 556.7L683 526.6L683 501.1L683.8 499.1L683.8 529.2L684.6 549.5L684.6 501.2L685.4 496.7L685.4 530.6L686.2 528.9L686.2 496.5L687 503.9L687 529.8L687.8 546.2L687.8 503.9L688.6 503.4L688.6 528.1L689.4 547.7L689.4 505.1L690.2 506.4L690.2 542.6L691 566.2L691 505.9L691.8 507.1L691.8 536.8L692.6 534.5L692.6 504.3L693.4 509.6L693.4 534.7L694.2 541.9L694.2 505.1L695 509.1L695 540.9L695.8 560.1L695.8 512.5L696.6 511.8L696.6 540.6L697.4 549.3L697.4 513.6L698.2 513.4L698.2 562.8L699 542.3L699 518.4L699.8 515.5L699.8 544.5L700.6 547.5L700.6 515.9L701.4 518.1L701.4 544.6L702.2 546L702.2 523L703 524.8L703 554.7L703.8 552.8L703.8 523.1L704.6 524L704.6 554.9L705.4 564L705.4 528.1L706.2 532.9L706.2 556.5L707 572.6L707 530.6L707.8 533.1L707.8 570.5L708.6 567.5L708.6 532L709.4 532.8L709.4 559.8L710.2 590.6L710.2 533.5L711 530.4L711 560.2L711.8 563.8L711.8 529.5L712.6 524L712.6 555.7L713.4 552.3L713.4 527.6L714.2 526.7L714.2 558.8L715 564.3L715 526.5L715.8 526.5L715.8 557.5L716.6 559.4L716.6 521.8L717.4 525.6L717.4 557.5L718.2 582.4L718.2 527.6L719 526.1L719 569.6L719.8 553.8L719.8 526.4L720.6 527L720.6 553.9L721.4 578.7L721.4 524.4L722.2 528.1L722.2 554.5L723 555.5L723 525L723.8 527.8L723.8 561.8L724.6 558.2L724.6 527.6L725.4 528L725.4 559.7L726.2 554.3L726.2 530.5L727 531.4L727 555.8L727.8 567.6L727.8 530.1L728.6 532.2L728.6 562.5L729.4 592.6L729.4 530.8L730.2 532.9L730.2 558.1L731 574.7L731 529.5L731.8 528.1L731.8 559.3L732.6 570L732.6 527L733.4 526.8L733.4 559.6L734.2 551.3L734.2 524.8L735 521.6L735 551.7L735.8 549.6L735.8 520.5L736.6 516.9L736.6 547.6L737.4 542.6L737.4 515.8L738.2 520L738.2 540.9L739 541.8L739 514.2L739.8 509.8L739.8 540.3L740.6 542.9L740.6 513.2L741.4 513.7L741.4 572.3L742.2 535.1L742.2 510.7L743 507.6L743 542.3L743.8 543.2L743.8 510L744.6 507.5L744.6 532.6L745.4 535.7L745.4 505L746.2 503.8L746.2 566.6L747 530.3L747 506.1L747.8 504.2L747.8 541.6L748.6 541.6L748.6 503.3L749.4 504.3L749.4 533.6L750.2 532.4L750.2 502.7L751 500.4L751 526L751.8 525.9L751.8 497.8L752.6 499.7L752.6 531.7L753.4 530.8L753.4 502L754.2 497.4L754.2 544.1L755 548.3L755 499.6L755.8 498.8L755.8 543.5L756.6 522.3L756.6 493.7L757.4 494.9L757.4 544.4L758.2 546.8L758.2 495.4L759 491.7L759 527.6L759.8 531.7L759.8 491.9L760.6 493.5L760.6 529.1L761.4 530.5L761.4 490.6L762.2 492.8L762.2 533.9L763 521.1L763 491.8L763.8 493.6L763.8 527L764.6 519.5L764.6 493L765.4 490.8L765.4 516.8L766.2 521.1L766.2 492.2L767 490.6L767 516.9L767.8 536.7L767.8 492L768.6 489.1L768.6 529.1L769.4 543.4L769.4 492L770.2 488.9L770.2 527.1L771 517.2L771 490.5L771.8 483.7L771.8 540.9L772.6 526.8L772.6 491.9L773.4 487.7L773.4 517.7L774.2 518L774.2 483.7L775 487.5L775 511.8L775.8 521.9L775.8 486.9L776.6 482L776.6 513.8L777.4 513.8L777.4 484.8L778.2 484.1L778.2 539.4L779 520.1L779 487.3L779.8 486.9L779.8 532.4L780.6 529L780.6 483.8L781.4 485.7L781.4 514.5L782.2 532.9L782.2 484.8L783 483.4L783 510.6L783.8 510.1L783.8 482.4L784.6 483.9L784.6 531.8L785.4 517.3L785.4 482.1L786.2 480.1L786.2 512.3L787 516.8L787 482.5L787.8 483.3L787.8 521L788.6 506.8L788.6 481.4L789.4 482.6L789.4 528.1L790.2 516.2L790.2 482.8L791 482.4L791 540.8L791.8 509.9L791.8 480.7L792.6 482L792.6 525.9L793.4 505.9L793.4 481.5L794.2 480.3L794.2 505.2L795 505L795 481.8L795.8 477.5L795.8 522.9L796.6 524.3L796.6 477.3L797.4 478.5L797.4 509.4L798.2 513.6L798.2 480L799 478.8L799 505.7L799.8 514.2L799.8 478.6L800.6 476.8L800.6 515.4L801.4 526L801.4 478L802.2 482.9L802.2 506.8L803 514.1L803 474.2L803.8 479.6L803.8 507.8L804.6 504.3L804.6 477L805.4 476.1L805.4 522.3L806.2 515.4L806.2 478.1L807 477L807 509.8L807.8 521.3L807.8 474.9L808.6 476.5L808.6 502.9L809.4 504.9L809.4 479.7L810.2 475.7L810.2 504.4L811 511.9L811 477.1L811.8 477.6L811.8 513.1L812.6 504.8L812.6 476.2L813.4 478.1L813.4 511.1L814.2 509.9L814.2 477L815 474.9L815 500.2L815.8 511.6L815.8 474.5L816.6 477.5L816.6 508.5L817.4 509.9L817.4 475.4L818.2 475.2L818.2 505.7L819 526.8L819 475.4L819.8 472.3L819.8 506.7L820.6 504.4L820.6 473.4L821.4 474.5L821.4 508.2L822.2 501.4L822.2 477.2L823 475.5L823 501.3L823.8 505.1L823.8 475.3L824.6 473.6L824.6 502L825.4 501L825.4 475.6L826.2 474.6L826.2 515.3L827 516.8L827 473.8L827.8 473.8L827.8 499.7L828.6 517.1L828.6 469.7L829.4 473.9L829.4 505.2L830.2 529L830.2 471.8L831 472.9L831 530.6L831.8 510.6L831.8 472.1L832.6 472.5L832.6 500.7L833.4 497.8L833.4 471.7L834.2 472.9L834.2 503.1L835 509.3L835 472L835.8 470.2L835.8 507.7L836.6 519.3L836.6 473.7L837.4 477.5L837.4 497.8L838.2 506.3L838.2 472.5L839 474.3L839 498L839.8 525.1L839.8 472.8L840.6 468.9L840.6 498.7L841.4 498.4L841.4 472.8L842.2 473.9L842.2 507.1L843 504.5L843 470.7L843.8 475.7L843.8 501.2L844.6 524.8L844.6 473.1L845.4 473.4L845.4 517.8L846.2 508.9L846.2 473.4L847 470L847 498.8L847.8 508.2L847.8 470.3L848.6 472L848.6 509.5L849.4 532.3L849.4 470.9L850.2 469.4L850.2 532.4L851 500.9L851 470.7L851.8 473.7L851.8 520.3L852.6 500.4L852.6 471.1L853.4 471.4L853.4 511L854.2 508.6L854.2 469.4L855 471.4L855 504.6L855.8 501.1L855.8 468.9L856.6 473.3L856.6 504.4L857.4 508.4L857.4 468.2L858.2 469L858.2 511.7L859 500L859 472.4L859.8 469.6L859.8 524.1L860.6 496.1L860.6 471.4L861.4 472.8L861.4 505L862.2 496.8L862.2 473.3L863 468L863 495.9L863.8 504.4L863.8 473.1L864.6 471.4L864.6 496L865.4 519.9L865.4 472.3L866.2 471.4L866.2 496L867 497.7L867 468.8L867.8 471.4L867.8 505.6L868.6 500.6L868.6 473.3L869.4 470.6L869.4 497.5L870.2 499.7L870.2 470.4L871 471.8L871 509.1L871.8 531.6L871.8 471.3L872.6 472L872.6 503.9L873.4 530.2L873.4 473.6L874.2 468.9L874.2 497.5L875 495.7L875 472.4" stroke="#000" stroke-width="0.75" fill="none" stroke-linejoin="bevel"/>
<path d="M712.7 422.5V532.7M717.0 422.5V532.7" stroke="#6a6a6a" stroke-width="1" fill="none"/>
<path d="M709.6 503.5V532.7M720.4 500.3V532.7M725 510V532.7" stroke="#666" stroke-width="0.7" fill="none"/>
<path d="M562.2 482.5L562.6 482.5L563 482.5L563.4 482.5L563.8 482.5L564.2 482.5L564.6 482.5L565 482.5L565.4 482.5L565.8 482.5L566.2 482.5L566.6 482.5L567 482.5L567.4 482.5L567.8 482.5L568.2 482.5L568.6 482.5L569 482.5L569.4 482.5L569.8 482.5L570.2 482.5L570.6 482.6L571 482.6L571.4 482.6L571.8 482.6L572.2 482.6L572.6 482.6L573 482.6L573.4 482.6L573.8 482.6L574.2 482.6L574.6 482.7L575 482.7L575.4 482.7L575.8 482.7L576.2 482.7L576.6 482.7L577 482.7L577.4 482.8L577.8 482.8L578.2 482.8L578.6 482.8L579 482.8L579.4 482.8L579.8 482.9L580.2 482.9L580.6 482.9L581 482.9L581.4 482.9L581.8 483L582.2 483L582.6 483L583 483L583.4 483L583.8 483.1L584.2 483.1L584.6 483.1L585 483.1L585.4 483.2L585.8 483.2L586.2 483.2L586.6 483.2L587 483.3L587.4 483.3L587.8 483.3L588.2 483.3L588.6 483.4L589 483.4L589.4 483.4L589.8 483.5L590.2 483.5L590.6 483.5L591 483.5L591.4 483.6L591.8 483.6L592.2 483.6L592.6 483.7L593 483.7L593.4 483.7L593.8 483.8L594.2 483.8L594.6 483.8L595 483.9L595.4 483.9L595.8 483.9L596.2 484L596.6 484L597 484.1L597.4 484.1L597.8 484.1L598.2 484.2L598.6 484.2L599 484.3L599.4 484.3L599.8 484.3L600.2 484.4L600.6 484.4L601 484.5L601.4 484.5L601.8 484.5L602.2 484.6L602.6 484.6L603 484.7L603.4 484.7L603.8 484.8L604.2 484.8L604.6 484.9L605 484.9L605.4 485L605.8 485L606.2 485.1L606.6 485.1L607 485.1L607.4 485.2L607.8 485.2L608.2 485.3L608.6 485.4L609 485.4L609.4 485.5L609.8 485.5L610.2 485.6L610.6 485.6L611 485.7L611.4 485.7L611.8 485.8L612.2 485.8L612.6 485.9L613 486L613.4 486L613.8 486.1L614.2 486.1L614.6 486.2L615 486.3L615.4 486.3L615.8 486.4L616.2 486.4L616.6 486.5L617 486.6L617.4 486.6L617.8 486.7L618.2 486.8L618.6 486.8L619 486.9L619.4 487L619.8 487L620.2 487.1L620.6 487.2L621 487.2L621.4 487.3L621.8 487.4L622.2 487.4L622.6 487.5L623 487.6L623.4 487.7L623.8 487.7L624.2 487.8L624.6 487.9L625 487.9L625.4 488L625.8 488.1L626.2 488.2L626.6 488.3L627 488.3L627.4 488.4L627.8 488.5L628.2 488.6L628.6 488.7L629 488.7L629.4 488.8L629.8 488.9L630.2 489L630.6 489.1L631 489.2L631.4 489.2L631.8 489.3L632.2 489.4L632.6 489.5L633 489.6L633.4 489.7L633.8 489.8L634.2 489.9L634.6 490L635 490L635.4 490.1L635.8 490.2L636.2 490.3L636.6 490.4L637 490.5L637.4 490.6L637.8 490.7L638.2 490.8L638.6 490.9L639 491L639.4 491.1L639.8 491.2L640.2 491.3L640.6 491.4L641 491.5L641.4 491.6L641.8 491.7L642.2 491.9L642.6 492L643 492.1L643.4 492.2L643.8 492.3L644.2 492.4L644.6 492.5L645 492.6L645.4 492.7L645.8 492.9L646.2 493L646.6 493.1L647 493.2L647.4 493.3L647.8 493.5L648.2 493.6L648.6 493.7L649 493.8L649.4 494L649.8 494.1L650.2 494.2L650.6 494.3L651 494.5L651.4 494.6L651.8 494.7L652.2 494.9L652.6 495L653 495.1L653.4 495.3L653.8 495.4L654.2 495.5L654.6 495.7L655 495.8L655.4 496L655.8 496.1L656.2 496.2L656.6 496.4L657 496.5L657.4 496.7L657.8 496.8L658.2 497L658.6 497.1L659 497.3L659.4 497.4L659.8 497.6L660.2 497.8L660.6 497.9L661 498.1L661.4 498.2L661.8 498.4L662.2 498.6L662.6 498.7L663 498.9L663.4 499.1L663.8 499.3L664.2 499.4L664.6 499.6L665 499.8L665.4 500L665.8 500.1L666.2 500.3L666.6 500.5L667 500.7L667.4 500.9L667.8 501.1L668.2 501.3L668.6 501.5L669 501.7L669.4 501.9L669.8 502.1L670.2 502.3L670.6 502.5L671 502.7L671.4 502.9L671.8 503.1L672.2 503.3L672.6 503.5L673 503.7L673.4 503.9L673.8 504.2L674.2 504.4L674.6 504.6L675 504.9L675.4 505.1L675.8 505.3L676.2 505.6L676.6 505.8L677 506L677.4 506.3L677.8 506.5L678.2 506.8L678.6 507.1L679 507.3L679.4 507.6L679.8 507.9L680.2 508.1L680.6 508.4L681 508.7L681.4 509L681.8 509.2L682.2 509.5L682.6 509.8L683 510.1L683.4 510.4L683.8 510.7L684.2 511L684.6 511.4L685 511.7L685.4 512L685.8 512.3L686.2 512.7L686.6 513L687 513.4L687.4 513.7L687.8 514.1L688.2 514.4L688.6 514.8L689 515.2L689.4 515.6L689.8 516L690.2 516.4L690.6 516.8L691 517.2L691.4 517.6L691.8 518.1L692.2 518.5L692.6 519L693 519.4L693.4 519.9L693.8 520.4L694.2 520.9L694.6 521.4L695 521.9L695.4 522.5L695.8 523L696.2 523.6L696.6 524.2L697 524.8L697.4 525.4L697.8 526.1L698.2 526.7L698.6 527.4L699 528.2L699.4 528.9L699.8 529.7L700.2 530.5L700.6 531.3L701 532.2L701.4 533.2L701.8 534.2L702.2 535.2L702.6 536.3L703 537.5L703.4 538.8L703.8 540.2L704.2 541.7L704.6 543.4L705 545.3L705.4 547.4L705.8 549.9L706.2 552.9L706.6 556.7L707 561.9L707.4 570.4L707.8 601.6L707.8 639L708.2 573.3L708.6 564.2L709 559.1L709.4 555.7L709.8 553.1L710.2 551.1L710.6 549.4L711 548.1L711.4 546.9L711.8 546L712.2 545.1L712.6 544.4L713 543.8L713.4 543.3L713.8 542.9L714.2 542.5L714.6 542.2L715 541.9L715.4 541.7L715.8 541.5L716.2 541.3L716.6 541.2L717 541.1L717.4 541L717.8 541L718.2 540.9L718.6 540.9L719 540.9L719.4 540.9L719.8 541L720.2 541L720.6 541.1L721 541.2L721.4 541.3L721.8 541.5L722.2 541.7L722.6 541.9L723 542.2L723.4 542.5L723.8 542.9L724.2 543.3L724.6 543.8L725 544.4L725.4 545.1L725.8 546L726.2 546.9L726.6 548.1L727 549.4L727.4 551.1L727.8 553.1L728.2 555.7L728.6 559.1L729 564.2L729.4 573.3L729.8 639L729.8 601.6L730.2 570.4L730.6 561.9L731 556.7L731.4 552.9L731.8 549.9L732.2 547.4L732.6 545.3L733 543.4L733.4 541.7L733.8 540.2L734.2 538.8L734.6 537.5L735 536.3L735.4 535.2L735.8 534.2L736.2 533.2L736.6 532.2L737 531.3L737.4 530.5L737.8 529.7L738.2 528.9L738.6 528.2L739 527.4L739.4 526.7L739.8 526.1L740.2 525.4L740.6 524.8L741 524.2L741.4 523.6L741.8 523L742.2 522.5L742.6 521.9L743 521.4L743.4 520.9L743.8 520.4L744.2 519.9L744.6 519.4L745 519L745.4 518.5L745.8 518.1L746.2 517.6L746.6 517.2L747 516.8L747.4 516.4L747.8 516L748.2 515.6L748.6 515.2L749 514.8L749.4 514.4L749.8 514.1L750.2 513.7L750.6 513.4L751 513L751.4 512.7L751.8 512.3L752.2 512L752.6 511.7L753 511.4L753.4 511L753.8 510.7L754.2 510.4L754.6 510.1L755 509.8L755.4 509.5L755.8 509.2L756.2 509L756.6 508.7L757 508.4L757.4 508.1L757.8 507.9L758.2 507.6L758.6 507.3L759 507.1L759.4 506.8L759.8 506.5L760.2 506.3L760.6 506L761 505.8L761.4 505.6L761.8 505.3L762.2 505.1L762.6 504.9L763 504.6L763.4 504.4L763.8 504.2L764.2 503.9L764.6 503.7L765 503.5L765.4 503.3L765.8 503.1L766.2 502.9L766.6 502.7L767 502.5L767.4 502.3L767.8 502.1L768.2 501.9L768.6 501.7L769 501.5L769.4 501.3L769.8 501.1L770.2 500.9L770.6 500.7L771 500.5L771.4 500.3L771.8 500.1L772.2 500L772.6 499.8L773 499.6L773.4 499.4L773.8 499.3L774.2 499.1L774.6 498.9L775 498.7L775.4 498.6L775.8 498.4L776.2 498.2L776.6 498.1L777 497.9L777.4 497.8L777.8 497.6L778.2 497.4L778.6 497.3L779 497.1L779.4 497L779.8 496.8L780.2 496.7L780.6 496.5L781 496.4L781.4 496.2L781.8 496.1L782.2 496L782.6 495.8L783 495.7L783.4 495.5L783.8 495.4L784.2 495.3L784.6 495.1L785 495L785.4 494.9L785.8 494.7L786.2 494.6L786.6 494.5L787 494.3L787.4 494.2L787.8 494.1L788.2 494L788.6 493.8L789 493.7L789.4 493.6L789.8 493.5L790.2 493.3L790.6 493.2L791 493.1L791.4 493L791.8 492.9L792.2 492.7L792.6 492.6L793 492.5L793.4 492.4L793.8 492.3L794.2 492.2L794.6 492.1L795 492L795.4 491.9L795.8 491.7L796.2 491.6L796.6 491.5L797 491.4L797.4 491.3L797.8 491.2L798.2 491.1L798.6 491L799 490.9L799.4 490.8L799.8 490.7L800.2 490.6L800.6 490.5L801 490.4L801.4 490.3L801.8 490.2L802.2 490.1L802.6 490L803 490L803.4 489.9L803.8 489.8L804.2 489.7L804.6 489.6L805 489.5L805.4 489.4L805.8 489.3L806.2 489.2L806.6 489.2L807 489.1L807.4 489L807.8 488.9L808.2 488.8L808.6 488.7L809 488.7L809.4 488.6L809.8 488.5L810.2 488.4L810.6 488.3L811 488.3L811.4 488.2L811.8 488.1L812.2 488L812.6 487.9L813 487.9L813.4 487.8L813.8 487.7L814.2 487.7L814.6 487.6L815 487.5L815.4 487.4L815.8 487.4L816.2 487.3L816.6 487.2L817 487.2L817.4 487.1L817.8 487L818.2 487L818.6 486.9L819 486.8L819.4 486.8L819.8 486.7L820.2 486.6L820.6 486.6L821 486.5L821.4 486.4L821.8 486.4L822.2 486.3L822.6 486.3L823 486.2L823.4 486.1L823.8 486.1L824.2 486L824.6 486L825 485.9L825.4 485.8L825.8 485.8L826.2 485.7L826.6 485.7L827 485.6L827.4 485.6L827.8 485.5L828.2 485.5L828.6 485.4L829 485.4L829.4 485.3L829.8 485.2L830.2 485.2L830.6 485.1L831 485.1L831.4 485.1L831.8 485L832.2 485L832.6 484.9L833 484.9L833.4 484.8L833.8 484.8L834.2 484.7L834.6 484.7L835 484.6L835.4 484.6L835.8 484.5L836.2 484.5L836.6 484.5L837 484.4L837.4 484.4L837.8 484.3L838.2 484.3L838.6 484.3L839 484.2L839.4 484.2L839.8 484.1L840.2 484.1L840.6 484.1L841 484L841.4 484L841.8 483.9L842.2 483.9L842.6 483.9L843 483.8L843.4 483.8L843.8 483.8L844.2 483.7L844.6 483.7L845 483.7L845.4 483.6L845.8 483.6L846.2 483.6L846.6 483.5L847 483.5L847.4 483.5L847.8 483.5L848.2 483.4L848.6 483.4L849 483.4L849.4 483.3L849.8 483.3L850.2 483.3L850.6 483.3L851 483.2L851.4 483.2L851.8 483.2L852.2 483.2L852.6 483.1L853 483.1L853.4 483.1L853.8 483.1L854.2 483L854.6 483L855 483L855.4 483L855.8 483L856.2 482.9L856.6 482.9L857 482.9L857.4 482.9L857.8 482.9L858.2 482.8L858.6 482.8L859 482.8L859.4 482.8L859.8 482.8L860.2 482.8L860.6 482.7L861 482.7L861.4 482.7L861.8 482.7L862.2 482.7L862.6 482.7L863 482.7L863.4 482.6L863.8 482.6L864.2 482.6L864.6 482.6L865 482.6L865.4 482.6L865.8 482.6L866.2 482.6L866.6 482.6L867 482.6L867.4 482.5L867.8 482.5L868.2 482.5L868.6 482.5L869 482.5L869.4 482.5L869.8 482.5L870.2 482.5L870.6 482.5L871 482.5L871.4 482.5L871.8 482.5L872.2 482.5L872.6 482.5L873 482.5L873.4 482.5L873.8 482.5L874.2 482.5L874.6 482.5L875 482.5" stroke="#0a0aff" stroke-width="1.9" fill="none" stroke-linejoin="round"/>
<path d="M698.1 403.5V647.2M737.9 403.5V647.2" stroke="#111" stroke-width="2.3" stroke-dasharray="8 5.3" stroke-dashoffset="0" fill="none"/>
<path d="M562.2 403.0H875.4V646.25" stroke="#dcdcdc" stroke-width="0.8" fill="none"/>
<path d="M562.2 403.0V646.25H875.4" stroke="#555" stroke-width="0.9" fill="none"/>
<path d="M562.2 646.25v-3.2M601.4 646.25v-3.2M640.5 646.25v-3.2M679.6 646.25v-3.2M718.8 646.25v-3.2M758 646.25v-3.2M797.1 646.25v-3.2M836.2 646.25v-3.2M875.4 646.25v-3.2M562.2 403h3.2M562.2 484.1h3.2M562.2 565.2h3.2M562.2 646.2h3.2" stroke="#555" stroke-width="0.8" fill="none"/>
<g font-family="'Liberation Sans', sans-serif" font-size="11.3" fill="#484848" text-anchor="middle">
<text x="562.2" y="663.2">0</text>
<text x="601.4" y="663.2">0.5</text>
<text x="640.5" y="663.2">1</text>
<text x="679.6" y="663.2">1.5</text>
<text x="718.8" y="663.2">2</text>
<text x="758" y="663.2">2.5</text>
<text x="797.1" y="663.2">3</text>
<text x="836.2" y="663.2">3.5</text>
<text x="875.4" y="663.2">4</text>
</g>
<g font-family="'Liberation Sans', sans-serif" font-size="11.3" fill="#484848" text-anchor="end">
<text x="557.4" y="407.8">0</text>
<text x="557.4" y="488.9">-50</text>
<text x="557.4" y="570">-100</text>
<text x="557.4" y="651">-150</text>
</g>
<text x="719.1" y="679.9" font-family="'Liberation Sans', sans-serif" font-size="11.8" fill="#505050" text-anchor="middle" textLength="96.5" lengthAdjust="spacingAndGlyphs">Frequency [GHz]</text>
<text transform="translate(527.2 525.1) rotate(-90)" font-family="'Liberation Sans', sans-serif" font-size="11.8" fill="#505050" text-anchor="middle" textLength="86" lengthAdjust="spacingAndGlyphs">Magnitude [dB]</text>
<path d="M698.1 631.2H737.9M698.1 628.0v6.4M737.9 628.0v6.4" stroke="#111" stroke-width="1.5" fill="none"/>
<text x="718" y="626" font-family="'Liberation Sans', sans-serif" font-size="11.2" font-weight="bold" fill="#222" text-anchor="middle">BW</text>
</g>
<g id="extras">
<rect x="283.6" y="409.6" width="133.6" height="45" fill="#fff" stroke="#777" stroke-width="0.8"/>
<path d="M286.7 419.2H313.7" stroke="#ff8080" stroke-width="1.2"/>
<path d="M286.7 432.9H313.7" stroke="#8a8a8a" stroke-width="1.2"/>
<path d="M286.7 446.2H313.7" stroke="#1414ff" stroke-width="1.8"/>
<g font-family="'Liberation Sans', sans-serif" font-size="10.2" fill="#303030" stroke="#303030" stroke-width="0.18">
<text x="318" y="423.4" textLength="76.5" lengthAdjust="spacingAndGlyphs">Schematic noise</text>
<text x="318" y="437.1" textLength="96" lengthAdjust="spacingAndGlyphs">Schematic noiseless</text>
<text x="318" y="450.4" textLength="67.5" lengthAdjust="spacingAndGlyphs">Designed NTF</text>
</g>
<rect x="567" y="410" width="126.9" height="43.2" fill="#fff" stroke="#777" stroke-width="0.8"/>
<path d="M569.7 418H597.5" stroke="#ff8080" stroke-width="1.2"/>
<path d="M569.7 431.6H597.5" stroke="#8a8a8a" stroke-width="1.2"/>
<path d="M569.7 445.2H597.5" stroke="#1414ff" stroke-width="1.8"/>
<g font-family="'Liberation Sans', sans-serif" font-size="10.2" fill="#303030" stroke="#303030" stroke-width="0.18">
<text x="601" y="423.2" textLength="48" lengthAdjust="spacingAndGlyphs">Schematic</text>
<text x="601" y="436.5" textLength="90" lengthAdjust="spacingAndGlyphs">Schematic Assisted</text>
<text x="601" y="449.8" textLength="66.5" lengthAdjust="spacingAndGlyphs">Designed NTF</text>
</g>
<rect x="109" y="537.9" width="135" height="105.1" fill="none" stroke="#666" stroke-width="0.8"/>
<g font-family="'Liberation Sans', sans-serif" font-size="11.7" fill="#2c2c2c" stroke="#2c2c2c" stroke-width="0.15">
<text x="114.2" y="553">f<tspan font-size="9.2" dy="4.4">in</tspan><tspan dy="-4.4" dx="1.5"> = 1.95 GHz</tspan></text>
<text x="114.2" y="572.8">Δ f<tspan font-size="9.2" dy="4.4">in</tspan><tspan dy="-4.4" dx="1.5"> = 30 MHz</tspan></text>
<text x="114.2" y="592.8">A<tspan font-size="9.2" dy="4.4">in</tspan><tspan dy="-4.4" dx="1.5"> = 250 mV</tspan></text>
<text x="114.2" y="612.5">SNDR<tspan font-size="9.2" dy="4.4">noise</tspan><tspan dy="-4.4" dx="1.5"> = 40.6 dB</tspan></text>
<text x="114.2" y="632.1">SNDR<tspan font-size="9.2" dy="4.4">noiseless</tspan><tspan dy="-4.4" dx="1.5"> = 44.8 dB</tspan></text>
</g>
<rect x="564.8" y="539.8" width="129.4" height="99.6" fill="none" stroke="#666" stroke-width="0.8"/>
<g font-family="'Liberation Sans', sans-serif" font-size="9.85" fill="#2c2c2c" stroke="#2c2c2c" stroke-width="0.2">
<text x="569.6" y="553.6">f<tspan font-size="7.6" dy="3.6">in</tspan><tspan dy="-3.6" dx="1"> = 1.95 GHz</tspan></text>
<text x="569.6" y="570.7">Δ f<tspan font-size="7.6" dy="3.6">in</tspan><tspan dy="-3.6" dx="1"> = 30 MHz</tspan></text>
<text x="569.6" y="587.4">A<tspan font-size="7.6" dy="3.6">in</tspan><tspan dy="-3.6" dx="1"> = 225 mV</tspan></text>
<text x="569.6" y="604">A<tspan font-size="7.6" dy="3.6">in</tspan><tspan dy="-3.6" dx="1"> Assisted = 350 mV</tspan></text>
<text x="569.6" y="620.2">SNDR = 35.7 dB</text>
<text x="569.6" y="633.2">SNDR Assisted = 42.8 dB</text>
</g>
<g font-family="'Liberation Sans', sans-serif" font-size="11.6" fill="#2a2a2a">
<text x="775" y="432.2">IMD3</text>
<text x="783.3" y="453.8">HD3</text>
</g>
<path d="M770.8 436.2L733.7 474.5M779.2 458L743 496.5" stroke="#111" stroke-width="1.9" fill="none"/>
<path d="M726.7 481.7L731.4 472.4L735.9 476.7ZM736.2 503.8L740.8 494.4L745.3 498.6Z" fill="#111"/>
</g>
</svg>
</body>
</html>
